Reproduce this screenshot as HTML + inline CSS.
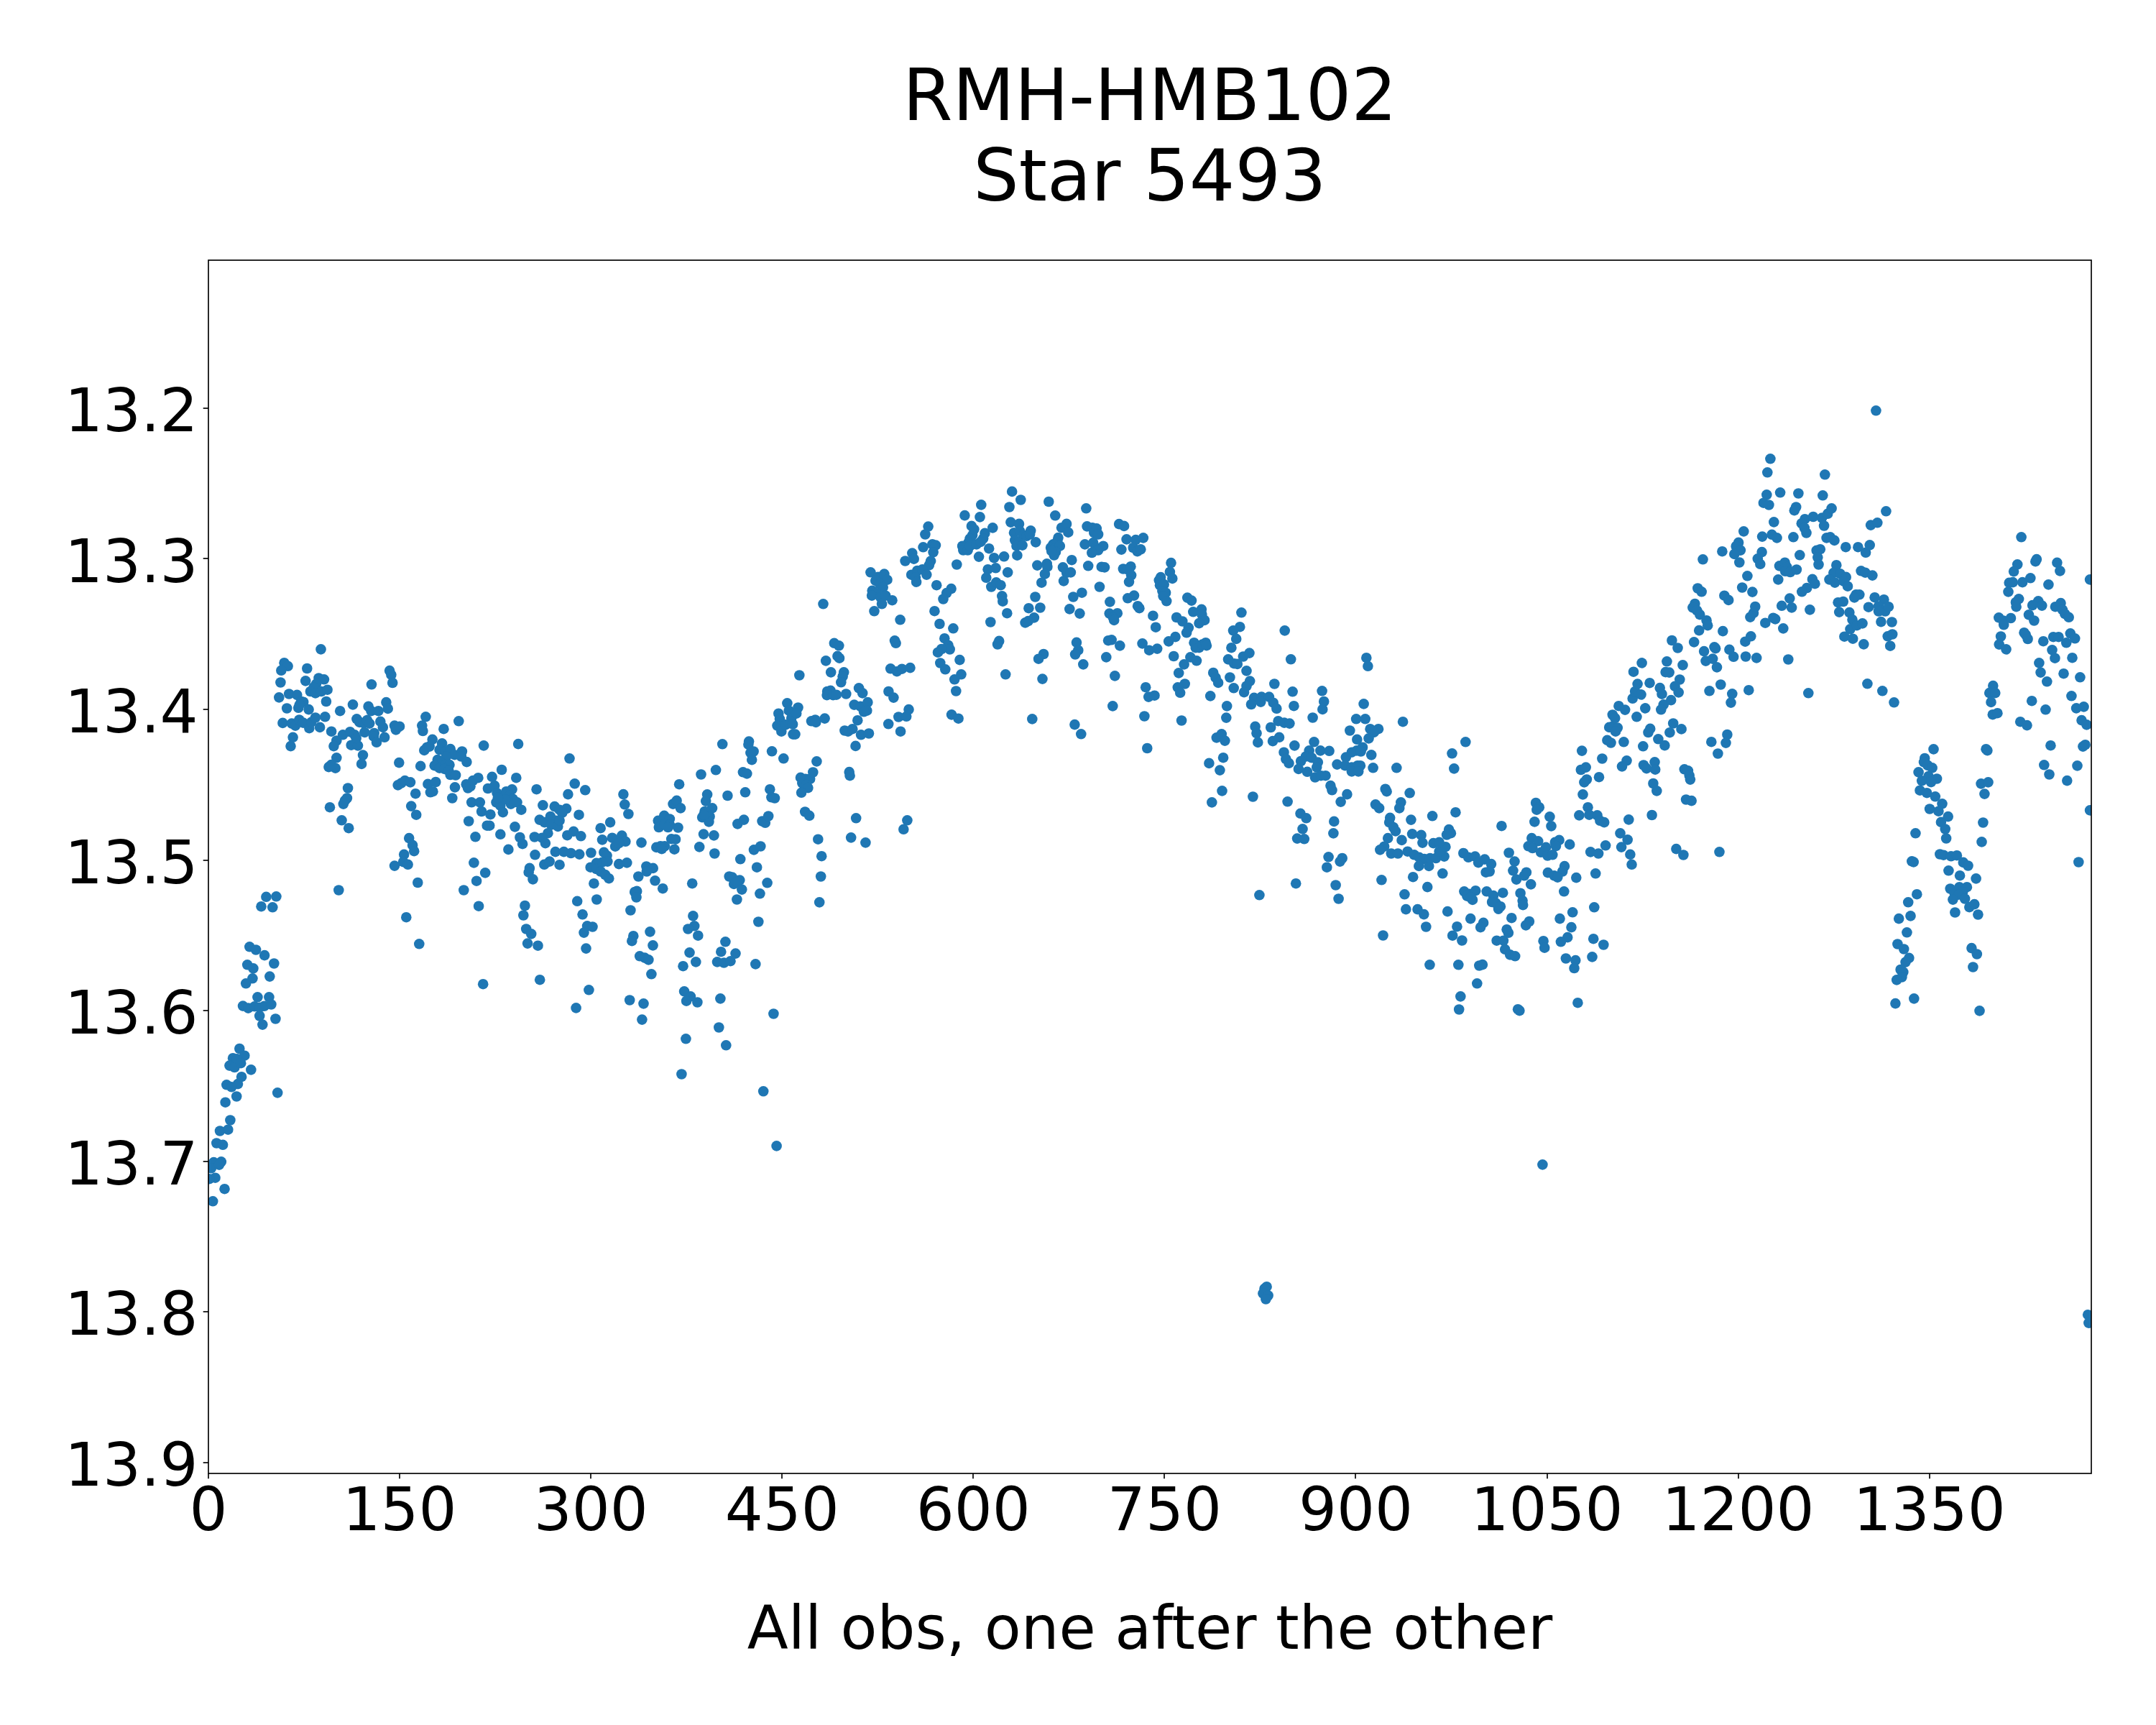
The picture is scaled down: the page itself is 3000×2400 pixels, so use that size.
<!DOCTYPE html><html><head><meta charset="utf-8"><title>RMH-HMB102 Star 5493</title>
<style>html,body{margin:0;padding:0;background:#fff}body{width:3000px;height:2400px;overflow:hidden}svg{display:block}text{font-family:"DejaVu Sans","Liberation Sans",sans-serif;fill:#000}</style></head><body>
<svg width="3000" height="2400" viewBox="0 0 3000 2400">
<rect width="3000" height="2400" fill="#fff"/>
<defs><clipPath id="ax"><rect x="290.0" y="362.0" width="2620.0" height="1688.0"/></clipPath></defs>
<g fill="#1f77b4" clip-path="url(#ax)">
<circle cx="395.5" cy="922.2" r="7.3"/>
<circle cx="400.6" cy="926.8" r="7.3"/>
<circle cx="391.3" cy="932.8" r="7.3"/>
<circle cx="390.4" cy="949.5" r="7.3"/>
<circle cx="388.3" cy="970.4" r="7.3"/>
<circle cx="402.2" cy="965.5" r="7.3"/>
<circle cx="399.2" cy="985.5" r="7.3"/>
<circle cx="393.4" cy="1005.9" r="7.3"/>
<circle cx="413.3" cy="966.9" r="7.3"/>
<circle cx="419.1" cy="976.0" r="7.3"/>
<circle cx="422.2" cy="976.7" r="7.3"/>
<circle cx="415.2" cy="984.8" r="7.3"/>
<circle cx="416.8" cy="980.6" r="7.3"/>
<circle cx="429.6" cy="987.1" r="7.3"/>
<circle cx="405.9" cy="1006.6" r="7.3"/>
<circle cx="411.0" cy="1009.6" r="7.3"/>
<circle cx="416.4" cy="1001.5" r="7.3"/>
<circle cx="421.9" cy="1005.6" r="7.3"/>
<circle cx="430.3" cy="1013.1" r="7.3"/>
<circle cx="433.1" cy="1004.9" r="7.3"/>
<circle cx="438.9" cy="998.5" r="7.3"/>
<circle cx="407.6" cy="1025.8" r="7.3"/>
<circle cx="404.5" cy="1038.1" r="7.3"/>
<circle cx="427.3" cy="930.0" r="7.3"/>
<circle cx="425.2" cy="947.4" r="7.3"/>
<circle cx="446.5" cy="903.4" r="7.3"/>
<circle cx="443.5" cy="943.5" r="7.3"/>
<circle cx="450.9" cy="945.3" r="7.3"/>
<circle cx="440.0" cy="951.6" r="7.3"/>
<circle cx="436.5" cy="956.2" r="7.3"/>
<circle cx="431.9" cy="962.0" r="7.3"/>
<circle cx="438.9" cy="964.4" r="7.3"/>
<circle cx="447.0" cy="962.0" r="7.3"/>
<circle cx="455.6" cy="959.7" r="7.3"/>
<circle cx="453.9" cy="976.0" r="7.3"/>
<circle cx="452.3" cy="997.3" r="7.3"/>
<circle cx="445.1" cy="1011.9" r="7.3"/>
<circle cx="461.1" cy="1017.7" r="7.3"/>
<circle cx="473.2" cy="989.2" r="7.3"/>
<circle cx="491.0" cy="980.4" r="7.3"/>
<circle cx="477.1" cy="1022.3" r="7.3"/>
<circle cx="487.1" cy="1018.2" r="7.3"/>
<circle cx="493.4" cy="1022.3" r="7.3"/>
<circle cx="468.3" cy="1030.5" r="7.3"/>
<circle cx="464.4" cy="1038.1" r="7.3"/>
<circle cx="488.7" cy="1036.7" r="7.3"/>
<circle cx="498.0" cy="1037.4" r="7.3"/>
<circle cx="495.7" cy="1027.0" r="7.3"/>
<circle cx="468.3" cy="1054.3" r="7.3"/>
<circle cx="457.4" cy="1067.1" r="7.3"/>
<circle cx="466.7" cy="1068.7" r="7.3"/>
<circle cx="460.9" cy="1064.1" r="7.3"/>
<circle cx="505.0" cy="1050.6" r="7.3"/>
<circle cx="503.1" cy="1062.9" r="7.3"/>
<circle cx="496.4" cy="1000.3" r="7.3"/>
<circle cx="500.3" cy="1004.9" r="7.3"/>
<circle cx="506.1" cy="1006.1" r="7.3"/>
<circle cx="510.8" cy="1001.9" r="7.3"/>
<circle cx="514.2" cy="1006.6" r="7.3"/>
<circle cx="507.3" cy="1018.9" r="7.3"/>
<circle cx="512.6" cy="982.9" r="7.3"/>
<circle cx="516.5" cy="989.2" r="7.3"/>
<circle cx="526.5" cy="989.2" r="7.3"/>
<circle cx="517.0" cy="952.3" r="7.3"/>
<circle cx="520.7" cy="1020.0" r="7.3"/>
<circle cx="520.0" cy="1024.7" r="7.3"/>
<circle cx="524.0" cy="1032.8" r="7.3"/>
<circle cx="535.1" cy="1025.8" r="7.3"/>
<circle cx="529.3" cy="1003.8" r="7.3"/>
<circle cx="532.8" cy="1011.9" r="7.3"/>
<circle cx="537.4" cy="977.1" r="7.3"/>
<circle cx="539.7" cy="985.9" r="7.3"/>
<circle cx="542.1" cy="933.1" r="7.3"/>
<circle cx="544.4" cy="938.8" r="7.3"/>
<circle cx="546.2" cy="950.0" r="7.3"/>
<circle cx="549.0" cy="1009.6" r="7.3"/>
<circle cx="550.9" cy="1015.4" r="7.3"/>
<circle cx="556.0" cy="1010.7" r="7.3"/>
<circle cx="484.1" cy="1096.5" r="7.3"/>
<circle cx="482.9" cy="1110.5" r="7.3"/>
<circle cx="479.9" cy="1113.9" r="7.3"/>
<circle cx="477.8" cy="1118.6" r="7.3"/>
<circle cx="459.0" cy="1123.2" r="7.3"/>
<circle cx="475.5" cy="1141.3" r="7.3"/>
<circle cx="485.2" cy="1152.2" r="7.3"/>
<circle cx="471.3" cy="1238.5" r="7.3"/>
<circle cx="555.3" cy="1061.1" r="7.3"/>
<circle cx="553.7" cy="1092.4" r="7.3"/>
<circle cx="558.3" cy="1089.6" r="7.3"/>
<circle cx="563.4" cy="1086.1" r="7.3"/>
<circle cx="571.0" cy="1088.4" r="7.3"/>
<circle cx="578.2" cy="1104.2" r="7.3"/>
<circle cx="572.2" cy="1121.6" r="7.3"/>
<circle cx="579.2" cy="1133.7" r="7.3"/>
<circle cx="569.2" cy="1166.1" r="7.3"/>
<circle cx="574.1" cy="1175.9" r="7.3"/>
<circle cx="576.2" cy="1184.2" r="7.3"/>
<circle cx="562.2" cy="1188.8" r="7.3"/>
<circle cx="561.1" cy="1199.1" r="7.3"/>
<circle cx="567.6" cy="1202.8" r="7.3"/>
<circle cx="549.0" cy="1204.6" r="7.3"/>
<circle cx="581.3" cy="1228.0" r="7.3"/>
<circle cx="585.2" cy="1065.9" r="7.3"/>
<circle cx="587.3" cy="1009.6" r="7.3"/>
<circle cx="588.4" cy="1017.0" r="7.3"/>
<circle cx="592.4" cy="997.3" r="7.3"/>
<circle cx="590.3" cy="1043.9" r="7.3"/>
<circle cx="594.2" cy="1039.7" r="7.3"/>
<circle cx="597.7" cy="1038.6" r="7.3"/>
<circle cx="601.7" cy="1028.8" r="7.3"/>
<circle cx="595.4" cy="1090.8" r="7.3"/>
<circle cx="598.9" cy="1102.3" r="7.3"/>
<circle cx="602.4" cy="1101.2" r="7.3"/>
<circle cx="606.3" cy="1088.0" r="7.3"/>
<circle cx="615.1" cy="1034.4" r="7.3"/>
<circle cx="617.4" cy="1014.2" r="7.3"/>
<circle cx="611.6" cy="1043.2" r="7.3"/>
<circle cx="619.7" cy="1045.5" r="7.3"/>
<circle cx="626.7" cy="1042.1" r="7.3"/>
<circle cx="632.5" cy="1050.2" r="7.3"/>
<circle cx="620.9" cy="1052.5" r="7.3"/>
<circle cx="608.8" cy="1057.1" r="7.3"/>
<circle cx="614.0" cy="1061.8" r="7.3"/>
<circle cx="604.7" cy="1065.2" r="7.3"/>
<circle cx="611.6" cy="1068.7" r="7.3"/>
<circle cx="619.7" cy="1064.1" r="7.3"/>
<circle cx="625.5" cy="1064.1" r="7.3"/>
<circle cx="618.6" cy="1069.9" r="7.3"/>
<circle cx="624.4" cy="1072.2" r="7.3"/>
<circle cx="626.7" cy="1078.0" r="7.3"/>
<circle cx="634.1" cy="1078.5" r="7.3"/>
<circle cx="638.3" cy="1003.3" r="7.3"/>
<circle cx="642.9" cy="1045.5" r="7.3"/>
<circle cx="641.8" cy="1052.5" r="7.3"/>
<circle cx="649.4" cy="1060.1" r="7.3"/>
<circle cx="633.0" cy="1095.4" r="7.3"/>
<circle cx="629.3" cy="1110.5" r="7.3"/>
<circle cx="673.1" cy="1037.4" r="7.3"/>
<circle cx="648.7" cy="1091.2" r="7.3"/>
<circle cx="651.1" cy="1096.5" r="7.3"/>
<circle cx="654.5" cy="1094.2" r="7.3"/>
<circle cx="658.0" cy="1086.1" r="7.3"/>
<circle cx="665.4" cy="1082.2" r="7.3"/>
<circle cx="656.2" cy="1116.3" r="7.3"/>
<circle cx="667.8" cy="1116.3" r="7.3"/>
<circle cx="670.1" cy="1129.0" r="7.3"/>
<circle cx="652.2" cy="1142.5" r="7.3"/>
<circle cx="661.5" cy="1164.3" r="7.3"/>
<circle cx="677.7" cy="1148.7" r="7.3"/>
<circle cx="681.2" cy="1148.7" r="7.3"/>
<circle cx="682.4" cy="1133.2" r="7.3"/>
<circle cx="659.4" cy="1200.4" r="7.3"/>
<circle cx="675.2" cy="1214.4" r="7.3"/>
<circle cx="663.1" cy="1225.7" r="7.3"/>
<circle cx="645.3" cy="1238.5" r="7.3"/>
<circle cx="370.4" cy="1247.8" r="7.3"/>
<circle cx="384.4" cy="1247.3" r="7.3"/>
<circle cx="684.7" cy="1080.8" r="7.3"/>
<circle cx="698.1" cy="1071.0" r="7.3"/>
<circle cx="678.9" cy="1097.0" r="7.3"/>
<circle cx="688.2" cy="1093.1" r="7.3"/>
<circle cx="691.6" cy="1103.5" r="7.3"/>
<circle cx="695.1" cy="1110.5" r="7.3"/>
<circle cx="690.5" cy="1116.3" r="7.3"/>
<circle cx="696.3" cy="1120.9" r="7.3"/>
<circle cx="699.8" cy="1130.2" r="7.3"/>
<circle cx="704.4" cy="1101.2" r="7.3"/>
<circle cx="712.5" cy="1098.4" r="7.3"/>
<circle cx="709.0" cy="1107.0" r="7.3"/>
<circle cx="713.7" cy="1111.6" r="7.3"/>
<circle cx="710.9" cy="1118.6" r="7.3"/>
<circle cx="719.5" cy="1116.3" r="7.3"/>
<circle cx="725.3" cy="1126.7" r="7.3"/>
<circle cx="718.3" cy="1082.2" r="7.3"/>
<circle cx="721.1" cy="1035.1" r="7.3"/>
<circle cx="696.3" cy="1160.8" r="7.3"/>
<circle cx="707.4" cy="1181.9" r="7.3"/>
<circle cx="716.5" cy="1150.4" r="7.3"/>
<circle cx="723.4" cy="1165.0" r="7.3"/>
<circle cx="727.1" cy="1174.2" r="7.3"/>
<circle cx="746.6" cy="1098.2" r="7.3"/>
<circle cx="755.4" cy="1120.4" r="7.3"/>
<circle cx="771.7" cy="1122.1" r="7.3"/>
<circle cx="778.6" cy="1126.7" r="7.3"/>
<circle cx="750.8" cy="1140.6" r="7.3"/>
<circle cx="757.7" cy="1144.1" r="7.3"/>
<circle cx="765.9" cy="1136.0" r="7.3"/>
<circle cx="774.0" cy="1141.8" r="7.3"/>
<circle cx="767.0" cy="1147.6" r="7.3"/>
<circle cx="776.3" cy="1149.9" r="7.3"/>
<circle cx="762.4" cy="1159.2" r="7.3"/>
<circle cx="743.8" cy="1164.5" r="7.3"/>
<circle cx="754.3" cy="1165.7" r="7.3"/>
<circle cx="758.9" cy="1173.1" r="7.3"/>
<circle cx="744.5" cy="1189.3" r="7.3"/>
<circle cx="772.8" cy="1185.1" r="7.3"/>
<circle cx="757.3" cy="1202.8" r="7.3"/>
<circle cx="764.7" cy="1198.6" r="7.3"/>
<circle cx="778.6" cy="1203.2" r="7.3"/>
<circle cx="736.9" cy="1207.9" r="7.3"/>
<circle cx="735.7" cy="1213.7" r="7.3"/>
<circle cx="741.5" cy="1223.4" r="7.3"/>
<circle cx="363.5" cy="1261.2" r="7.3"/>
<circle cx="379.3" cy="1262.3" r="7.3"/>
<circle cx="666.1" cy="1260.7" r="7.3"/>
<circle cx="730.4" cy="1260.0" r="7.3"/>
<circle cx="565.3" cy="1276.2" r="7.3"/>
<circle cx="583.3" cy="1313.3" r="7.3"/>
<circle cx="728.3" cy="1273.5" r="7.3"/>
<circle cx="732.2" cy="1292.5" r="7.3"/>
<circle cx="739.2" cy="1299.4" r="7.3"/>
<circle cx="734.1" cy="1312.6" r="7.3"/>
<circle cx="748.5" cy="1315.7" r="7.3"/>
<circle cx="751.2" cy="1363.2" r="7.3"/>
<circle cx="672.2" cy="1369.2" r="7.3"/>
<circle cx="347.3" cy="1317.3" r="7.3"/>
<circle cx="356.1" cy="1321.5" r="7.3"/>
<circle cx="368.1" cy="1329.1" r="7.3"/>
<circle cx="381.3" cy="1340.5" r="7.3"/>
<circle cx="344.2" cy="1342.3" r="7.3"/>
<circle cx="352.4" cy="1347.4" r="7.3"/>
<circle cx="375.3" cy="1358.6" r="7.3"/>
<circle cx="351.4" cy="1361.3" r="7.3"/>
<circle cx="342.2" cy="1368.3" r="7.3"/>
<circle cx="358.4" cy="1387.3" r="7.3"/>
<circle cx="374.4" cy="1387.3" r="7.3"/>
<circle cx="338.0" cy="1399.6" r="7.3"/>
<circle cx="345.4" cy="1402.6" r="7.3"/>
<circle cx="354.2" cy="1400.3" r="7.3"/>
<circle cx="361.2" cy="1401.9" r="7.3"/>
<circle cx="367.7" cy="1399.8" r="7.3"/>
<circle cx="377.4" cy="1397.5" r="7.3"/>
<circle cx="361.2" cy="1413.5" r="7.3"/>
<circle cx="383.4" cy="1417.5" r="7.3"/>
<circle cx="365.3" cy="1425.6" r="7.3"/>
<circle cx="333.3" cy="1459.0" r="7.3"/>
<circle cx="340.3" cy="1468.7" r="7.3"/>
<circle cx="324.1" cy="1472.2" r="7.3"/>
<circle cx="329.9" cy="1473.4" r="7.3"/>
<circle cx="319.4" cy="1482.6" r="7.3"/>
<circle cx="326.4" cy="1485.0" r="7.3"/>
<circle cx="335.2" cy="1479.2" r="7.3"/>
<circle cx="349.3" cy="1488.4" r="7.3"/>
<circle cx="336.1" cy="1498.2" r="7.3"/>
<circle cx="331.0" cy="1508.1" r="7.3"/>
<circle cx="315.3" cy="1509.3" r="7.3"/>
<circle cx="322.2" cy="1512.3" r="7.3"/>
<circle cx="329.2" cy="1525.5" r="7.3"/>
<circle cx="386.2" cy="1520.4" r="7.3"/>
<circle cx="313.6" cy="1533.7" r="7.3"/>
<circle cx="320.4" cy="1558.5" r="7.3"/>
<circle cx="306.0" cy="1573.5" r="7.3"/>
<circle cx="317.3" cy="1571.7" r="7.3"/>
<circle cx="301.3" cy="1590.5" r="7.3"/>
<circle cx="310.1" cy="1592.8" r="7.3"/>
<circle cx="297.4" cy="1617.1" r="7.3"/>
<circle cx="307.8" cy="1616.4" r="7.3"/>
<circle cx="293.9" cy="1625.3" r="7.3"/>
<circle cx="305.0" cy="1620.6" r="7.3"/>
<circle cx="299.5" cy="1638.7" r="7.3"/>
<circle cx="291.1" cy="1640.3" r="7.3"/>
<circle cx="312.5" cy="1654.2" r="7.3"/>
<circle cx="296.2" cy="1671.3" r="7.3"/>
<circle cx="792.5" cy="1055.3" r="7.3"/>
<circle cx="799.7" cy="1090.3" r="7.3"/>
<circle cx="790.4" cy="1105.1" r="7.3"/>
<circle cx="814.3" cy="1099.3" r="7.3"/>
<circle cx="788.1" cy="1125.1" r="7.3"/>
<circle cx="782.3" cy="1130.9" r="7.3"/>
<circle cx="805.5" cy="1133.7" r="7.3"/>
<circle cx="789.3" cy="1162.2" r="7.3"/>
<circle cx="798.1" cy="1156.8" r="7.3"/>
<circle cx="808.3" cy="1163.3" r="7.3"/>
<circle cx="784.6" cy="1185.1" r="7.3"/>
<circle cx="794.4" cy="1187.0" r="7.3"/>
<circle cx="806.2" cy="1188.6" r="7.3"/>
<circle cx="822.4" cy="1186.5" r="7.3"/>
<circle cx="803.2" cy="1253.8" r="7.3"/>
<circle cx="830.3" cy="1251.5" r="7.3"/>
<circle cx="826.4" cy="1229.2" r="7.3"/>
<circle cx="835.7" cy="1152.2" r="7.3"/>
<circle cx="849.1" cy="1144.1" r="7.3"/>
<circle cx="838.0" cy="1168.4" r="7.3"/>
<circle cx="867.4" cy="1105.1" r="7.3"/>
<circle cx="869.3" cy="1119.3" r="7.3"/>
<circle cx="874.4" cy="1132.5" r="7.3"/>
<circle cx="851.9" cy="1165.7" r="7.3"/>
<circle cx="858.8" cy="1169.6" r="7.3"/>
<circle cx="865.3" cy="1162.6" r="7.3"/>
<circle cx="870.4" cy="1170.8" r="7.3"/>
<circle cx="856.1" cy="1177.7" r="7.3"/>
<circle cx="861.2" cy="1173.1" r="7.3"/>
<circle cx="840.3" cy="1185.8" r="7.3"/>
<circle cx="844.5" cy="1190.5" r="7.3"/>
<circle cx="845.4" cy="1198.6" r="7.3"/>
<circle cx="838.0" cy="1199.7" r="7.3"/>
<circle cx="829.9" cy="1200.9" r="7.3"/>
<circle cx="821.7" cy="1206.7" r="7.3"/>
<circle cx="829.9" cy="1209.0" r="7.3"/>
<circle cx="835.7" cy="1212.5" r="7.3"/>
<circle cx="842.2" cy="1217.1" r="7.3"/>
<circle cx="847.3" cy="1222.2" r="7.3"/>
<circle cx="861.2" cy="1202.1" r="7.3"/>
<circle cx="872.3" cy="1200.4" r="7.3"/>
<circle cx="892.5" cy="1172.4" r="7.3"/>
<circle cx="888.3" cy="1219.5" r="7.3"/>
<circle cx="899.4" cy="1205.5" r="7.3"/>
<circle cx="908.7" cy="1207.9" r="7.3"/>
<circle cx="899.9" cy="1212.5" r="7.3"/>
<circle cx="911.5" cy="1225.3" r="7.3"/>
<circle cx="922.2" cy="1236.2" r="7.3"/>
<circle cx="883.2" cy="1241.0" r="7.3"/>
<circle cx="886.2" cy="1239.9" r="7.3"/>
<circle cx="885.5" cy="1248.5" r="7.3"/>
<circle cx="915.7" cy="1141.8" r="7.3"/>
<circle cx="924.2" cy="1134.8" r="7.3"/>
<circle cx="931.9" cy="1139.5" r="7.3"/>
<circle cx="916.8" cy="1151.0" r="7.3"/>
<circle cx="924.9" cy="1146.4" r="7.3"/>
<circle cx="931.9" cy="1147.6" r="7.3"/>
<circle cx="929.6" cy="1151.0" r="7.3"/>
<circle cx="943.5" cy="1151.5" r="7.3"/>
<circle cx="936.5" cy="1118.6" r="7.3"/>
<circle cx="941.6" cy="1113.9" r="7.3"/>
<circle cx="947.0" cy="1124.4" r="7.3"/>
<circle cx="945.1" cy="1091.2" r="7.3"/>
<circle cx="934.2" cy="1167.3" r="7.3"/>
<circle cx="940.0" cy="1167.7" r="7.3"/>
<circle cx="913.3" cy="1178.9" r="7.3"/>
<circle cx="919.1" cy="1177.3" r="7.3"/>
<circle cx="924.9" cy="1177.3" r="7.3"/>
<circle cx="920.8" cy="1181.2" r="7.3"/>
<circle cx="938.4" cy="1181.7" r="7.3"/>
<circle cx="963.2" cy="1229.2" r="7.3"/>
<circle cx="975.5" cy="1077.5" r="7.3"/>
<circle cx="996.1" cy="1071.3" r="7.3"/>
<circle cx="984.1" cy="1105.4" r="7.3"/>
<circle cx="982.2" cy="1114.6" r="7.3"/>
<circle cx="991.0" cy="1124.4" r="7.3"/>
<circle cx="980.6" cy="1129.0" r="7.3"/>
<circle cx="977.1" cy="1137.1" r="7.3"/>
<circle cx="984.1" cy="1132.5" r="7.3"/>
<circle cx="987.6" cy="1136.0" r="7.3"/>
<circle cx="986.4" cy="1143.4" r="7.3"/>
<circle cx="979.4" cy="1133.7" r="7.3"/>
<circle cx="979.0" cy="1160.6" r="7.3"/>
<circle cx="993.4" cy="1162.4" r="7.3"/>
<circle cx="973.2" cy="1178.4" r="7.3"/>
<circle cx="994.3" cy="1187.5" r="7.3"/>
<circle cx="1005.2" cy="1035.3" r="7.3"/>
<circle cx="1012.4" cy="1107.0" r="7.3"/>
<circle cx="1014.7" cy="1219.5" r="7.3"/>
<circle cx="1018.9" cy="1220.6" r="7.3"/>
<circle cx="1029.3" cy="1224.6" r="7.3"/>
<circle cx="1021.2" cy="1229.9" r="7.3"/>
<circle cx="1025.8" cy="1227.6" r="7.3"/>
<circle cx="1032.3" cy="1237.6" r="7.3"/>
<circle cx="1025.4" cy="1251.5" r="7.3"/>
<circle cx="1033.9" cy="1074.3" r="7.3"/>
<circle cx="1039.3" cy="1076.4" r="7.3"/>
<circle cx="1037.0" cy="1102.3" r="7.3"/>
<circle cx="1026.3" cy="1146.4" r="7.3"/>
<circle cx="1035.1" cy="1140.6" r="7.3"/>
<circle cx="1030.2" cy="1195.3" r="7.3"/>
<circle cx="1042.1" cy="1031.6" r="7.3"/>
<circle cx="1041.4" cy="1035.8" r="7.3"/>
<circle cx="1048.6" cy="1045.5" r="7.3"/>
<circle cx="1044.4" cy="1047.4" r="7.3"/>
<circle cx="1046.2" cy="1057.1" r="7.3"/>
<circle cx="1049.0" cy="1182.4" r="7.3"/>
<circle cx="1058.3" cy="1177.5" r="7.3"/>
<circle cx="1053.2" cy="1206.7" r="7.3"/>
<circle cx="1067.6" cy="1228.3" r="7.3"/>
<circle cx="1057.4" cy="1243.3" r="7.3"/>
<circle cx="1060.6" cy="1142.5" r="7.3"/>
<circle cx="1064.8" cy="1144.8" r="7.3"/>
<circle cx="1069.2" cy="1135.5" r="7.3"/>
<circle cx="1071.3" cy="1098.2" r="7.3"/>
<circle cx="1073.4" cy="1109.3" r="7.3"/>
<circle cx="1078.0" cy="1110.5" r="7.3"/>
<circle cx="1074.1" cy="1045.3" r="7.3"/>
<circle cx="1090.3" cy="1055.3" r="7.3"/>
<circle cx="1083.3" cy="992.7" r="7.3"/>
<circle cx="1085.0" cy="1000.3" r="7.3"/>
<circle cx="1081.5" cy="1009.6" r="7.3"/>
<circle cx="1087.3" cy="1010.7" r="7.3"/>
<circle cx="1087.3" cy="1017.7" r="7.3"/>
<circle cx="1093.1" cy="1008.4" r="7.3"/>
<circle cx="1095.4" cy="978.3" r="7.3"/>
<circle cx="1097.7" cy="988.7" r="7.3"/>
<circle cx="1101.2" cy="999.1" r="7.3"/>
<circle cx="1103.1" cy="1007.7" r="7.3"/>
<circle cx="1110.5" cy="984.5" r="7.3"/>
<circle cx="1108.2" cy="992.7" r="7.3"/>
<circle cx="1103.5" cy="1021.6" r="7.3"/>
<circle cx="1106.5" cy="1021.6" r="7.3"/>
<circle cx="1112.3" cy="939.5" r="7.3"/>
<circle cx="1114.0" cy="1081.9" r="7.3"/>
<circle cx="1120.9" cy="1083.8" r="7.3"/>
<circle cx="1127.2" cy="1083.8" r="7.3"/>
<circle cx="1116.3" cy="1089.6" r="7.3"/>
<circle cx="1122.1" cy="1091.9" r="7.3"/>
<circle cx="1124.4" cy="1096.1" r="7.3"/>
<circle cx="1115.1" cy="1102.8" r="7.3"/>
<circle cx="1131.3" cy="1074.5" r="7.3"/>
<circle cx="1136.4" cy="1059.4" r="7.3"/>
<circle cx="1120.2" cy="1129.5" r="7.3"/>
<circle cx="1126.2" cy="1134.8" r="7.3"/>
<circle cx="1129.0" cy="1003.3" r="7.3"/>
<circle cx="1134.4" cy="1001.5" r="7.3"/>
<circle cx="1135.3" cy="1004.9" r="7.3"/>
<circle cx="1147.6" cy="999.6" r="7.3"/>
<circle cx="1138.3" cy="1167.7" r="7.3"/>
<circle cx="1143.2" cy="1191.2" r="7.3"/>
<circle cx="1142.2" cy="1219.5" r="7.3"/>
<circle cx="1140.2" cy="1255.4" r="7.3"/>
<circle cx="1149.2" cy="919.4" r="7.3"/>
<circle cx="1160.8" cy="894.8" r="7.3"/>
<circle cx="1167.3" cy="898.3" r="7.3"/>
<circle cx="1165.4" cy="912.9" r="7.3"/>
<circle cx="1168.0" cy="915.7" r="7.3"/>
<circle cx="1156.2" cy="935.4" r="7.3"/>
<circle cx="1151.1" cy="962.0" r="7.3"/>
<circle cx="1155.7" cy="960.9" r="7.3"/>
<circle cx="1150.6" cy="967.1" r="7.3"/>
<circle cx="1159.2" cy="967.1" r="7.3"/>
<circle cx="1163.8" cy="966.7" r="7.3"/>
<circle cx="1174.2" cy="935.4" r="7.3"/>
<circle cx="1172.6" cy="941.2" r="7.3"/>
<circle cx="1170.3" cy="949.3" r="7.3"/>
<circle cx="1177.3" cy="965.5" r="7.3"/>
<circle cx="1175.4" cy="1016.5" r="7.3"/>
<circle cx="1180.0" cy="1017.7" r="7.3"/>
<circle cx="1186.3" cy="1014.2" r="7.3"/>
<circle cx="1193.3" cy="1002.2" r="7.3"/>
<circle cx="1198.1" cy="1022.3" r="7.3"/>
<circle cx="1209.0" cy="1020.5" r="7.3"/>
<circle cx="1190.5" cy="1037.9" r="7.3"/>
<circle cx="1181.7" cy="1074.1" r="7.3"/>
<circle cx="1182.6" cy="1079.2" r="7.3"/>
<circle cx="1188.6" cy="980.6" r="7.3"/>
<circle cx="1197.4" cy="982.9" r="7.3"/>
<circle cx="1207.4" cy="977.1" r="7.3"/>
<circle cx="1206.3" cy="988.7" r="7.3"/>
<circle cx="1202.1" cy="990.3" r="7.3"/>
<circle cx="1195.1" cy="957.4" r="7.3"/>
<circle cx="1200.2" cy="964.4" r="7.3"/>
<circle cx="1191.2" cy="1138.3" r="7.3"/>
<circle cx="1184.2" cy="1165.4" r="7.3"/>
<circle cx="1204.4" cy="1172.4" r="7.3"/>
<circle cx="1236.4" cy="962.0" r="7.3"/>
<circle cx="1243.4" cy="970.6" r="7.3"/>
<circle cx="1239.2" cy="930.3" r="7.3"/>
<circle cx="1248.0" cy="934.2" r="7.3"/>
<circle cx="1255.0" cy="930.7" r="7.3"/>
<circle cx="1266.5" cy="929.1" r="7.3"/>
<circle cx="1245.0" cy="891.3" r="7.3"/>
<circle cx="1246.6" cy="894.8" r="7.3"/>
<circle cx="1252.6" cy="862.3" r="7.3"/>
<circle cx="1236.2" cy="1007.3" r="7.3"/>
<circle cx="1250.3" cy="997.5" r="7.3"/>
<circle cx="1261.2" cy="996.8" r="7.3"/>
<circle cx="1264.5" cy="987.1" r="7.3"/>
<circle cx="1253.1" cy="1017.7" r="7.3"/>
<circle cx="1262.4" cy="1141.3" r="7.3"/>
<circle cx="1257.3" cy="1153.8" r="7.3"/>
<circle cx="810.6" cy="1272.3" r="7.3"/>
<circle cx="817.1" cy="1288.3" r="7.3"/>
<circle cx="824.5" cy="1289.5" r="7.3"/>
<circle cx="812.5" cy="1297.6" r="7.3"/>
<circle cx="815.5" cy="1319.6" r="7.3"/>
<circle cx="819.4" cy="1377.3" r="7.3"/>
<circle cx="801.6" cy="1402.4" r="7.3"/>
<circle cx="877.4" cy="1266.5" r="7.3"/>
<circle cx="881.3" cy="1302.2" r="7.3"/>
<circle cx="879.3" cy="1309.2" r="7.3"/>
<circle cx="904.5" cy="1296.4" r="7.3"/>
<circle cx="908.5" cy="1315.4" r="7.3"/>
<circle cx="890.2" cy="1330.3" r="7.3"/>
<circle cx="897.1" cy="1332.6" r="7.3"/>
<circle cx="902.4" cy="1335.4" r="7.3"/>
<circle cx="906.4" cy="1355.3" r="7.3"/>
<circle cx="876.2" cy="1391.5" r="7.3"/>
<circle cx="895.5" cy="1396.4" r="7.3"/>
<circle cx="893.4" cy="1418.6" r="7.3"/>
<circle cx="964.4" cy="1274.4" r="7.3"/>
<circle cx="966.2" cy="1288.3" r="7.3"/>
<circle cx="957.4" cy="1292.5" r="7.3"/>
<circle cx="971.3" cy="1301.7" r="7.3"/>
<circle cx="959.5" cy="1325.4" r="7.3"/>
<circle cx="968.3" cy="1338.4" r="7.3"/>
<circle cx="950.5" cy="1344.2" r="7.3"/>
<circle cx="952.1" cy="1379.4" r="7.3"/>
<circle cx="960.9" cy="1386.4" r="7.3"/>
<circle cx="955.1" cy="1392.7" r="7.3"/>
<circle cx="970.4" cy="1394.5" r="7.3"/>
<circle cx="954.4" cy="1445.3" r="7.3"/>
<circle cx="948.4" cy="1494.5" r="7.3"/>
<circle cx="1009.4" cy="1310.3" r="7.3"/>
<circle cx="1003.3" cy="1324.2" r="7.3"/>
<circle cx="1023.5" cy="1326.6" r="7.3"/>
<circle cx="998.0" cy="1338.4" r="7.3"/>
<circle cx="1007.3" cy="1339.5" r="7.3"/>
<circle cx="1016.5" cy="1337.2" r="7.3"/>
<circle cx="1002.4" cy="1389.4" r="7.3"/>
<circle cx="1000.3" cy="1429.5" r="7.3"/>
<circle cx="1010.3" cy="1454.3" r="7.3"/>
<circle cx="1055.3" cy="1282.5" r="7.3"/>
<circle cx="1051.3" cy="1341.4" r="7.3"/>
<circle cx="1076.4" cy="1410.5" r="7.3"/>
<circle cx="1062.2" cy="1518.3" r="7.3"/>
<circle cx="1080.6" cy="1594.4" r="7.3"/>
<circle cx="1145.5" cy="840.3" r="7.3"/>
<circle cx="1211.4" cy="796.3" r="7.3"/>
<circle cx="1221.8" cy="802.8" r="7.3"/>
<circle cx="1230.4" cy="798.6" r="7.3"/>
<circle cx="1234.5" cy="806.7" r="7.3"/>
<circle cx="1218.3" cy="807.9" r="7.3"/>
<circle cx="1224.1" cy="812.5" r="7.3"/>
<circle cx="1228.7" cy="817.1" r="7.3"/>
<circle cx="1213.7" cy="821.8" r="7.3"/>
<circle cx="1219.5" cy="825.3" r="7.3"/>
<circle cx="1213.2" cy="828.7" r="7.3"/>
<circle cx="1225.3" cy="831.1" r="7.3"/>
<circle cx="1232.2" cy="828.7" r="7.3"/>
<circle cx="1241.5" cy="835.2" r="7.3"/>
<circle cx="1227.1" cy="840.3" r="7.3"/>
<circle cx="1216.5" cy="850.3" r="7.3"/>
<circle cx="1269.3" cy="769.6" r="7.3"/>
<circle cx="1271.7" cy="777.7" r="7.3"/>
<circle cx="1259.6" cy="780.5" r="7.3"/>
<circle cx="1268.2" cy="799.7" r="7.3"/>
<circle cx="1276.3" cy="794.0" r="7.3"/>
<circle cx="1274.0" cy="803.2" r="7.3"/>
<circle cx="1275.1" cy="809.7" r="7.3"/>
<circle cx="1291.6" cy="732.6" r="7.3"/>
<circle cx="1287.4" cy="743.5" r="7.3"/>
<circle cx="1284.6" cy="761.3" r="7.3"/>
<circle cx="1297.4" cy="757.4" r="7.3"/>
<circle cx="1302.0" cy="758.6" r="7.3"/>
<circle cx="1298.6" cy="768.3" r="7.3"/>
<circle cx="1295.1" cy="780.6" r="7.3"/>
<circle cx="1292.8" cy="786.4" r="7.3"/>
<circle cx="1283.5" cy="792.2" r="7.3"/>
<circle cx="1289.3" cy="799.6" r="7.3"/>
<circle cx="1303.2" cy="814.2" r="7.3"/>
<circle cx="1323.6" cy="819.1" r="7.3"/>
<circle cx="1317.1" cy="825.1" r="7.3"/>
<circle cx="1312.5" cy="833.5" r="7.3"/>
<circle cx="1300.4" cy="850.2" r="7.3"/>
<circle cx="1307.4" cy="868.0" r="7.3"/>
<circle cx="1326.4" cy="874.3" r="7.3"/>
<circle cx="1314.3" cy="888.2" r="7.3"/>
<circle cx="1319.4" cy="897.7" r="7.3"/>
<circle cx="1321.7" cy="903.5" r="7.3"/>
<circle cx="1310.1" cy="903.0" r="7.3"/>
<circle cx="1305.0" cy="907.7" r="7.3"/>
<circle cx="1308.3" cy="922.5" r="7.3"/>
<circle cx="1315.3" cy="931.3" r="7.3"/>
<circle cx="1335.4" cy="918.1" r="7.3"/>
<circle cx="1337.5" cy="938.3" r="7.3"/>
<circle cx="1328.2" cy="945.3" r="7.3"/>
<circle cx="1330.3" cy="961.5" r="7.3"/>
<circle cx="1324.1" cy="994.4" r="7.3"/>
<circle cx="1333.6" cy="999.7" r="7.3"/>
<circle cx="1331.3" cy="785.5" r="7.3"/>
<circle cx="1342.4" cy="717.1" r="7.3"/>
<circle cx="1351.9" cy="731.9" r="7.3"/>
<circle cx="1355.4" cy="736.5" r="7.3"/>
<circle cx="1353.1" cy="744.6" r="7.3"/>
<circle cx="1349.6" cy="749.3" r="7.3"/>
<circle cx="1347.3" cy="755.1" r="7.3"/>
<circle cx="1339.1" cy="759.7" r="7.3"/>
<circle cx="1340.3" cy="765.5" r="7.3"/>
<circle cx="1346.6" cy="765.5" r="7.3"/>
<circle cx="1349.6" cy="759.7" r="7.3"/>
<circle cx="1358.8" cy="757.4" r="7.3"/>
<circle cx="1365.3" cy="702.4" r="7.3"/>
<circle cx="1363.5" cy="719.4" r="7.3"/>
<circle cx="1370.4" cy="741.9" r="7.3"/>
<circle cx="1368.1" cy="749.3" r="7.3"/>
<circle cx="1364.6" cy="753.9" r="7.3"/>
<circle cx="1381.3" cy="734.4" r="7.3"/>
<circle cx="1376.2" cy="763.2" r="7.3"/>
<circle cx="1362.1" cy="774.6" r="7.3"/>
<circle cx="1383.2" cy="776.2" r="7.3"/>
<circle cx="1397.1" cy="774.3" r="7.3"/>
<circle cx="1374.6" cy="792.2" r="7.3"/>
<circle cx="1385.5" cy="790.3" r="7.3"/>
<circle cx="1402.2" cy="796.4" r="7.3"/>
<circle cx="1372.3" cy="803.8" r="7.3"/>
<circle cx="1379.3" cy="816.5" r="7.3"/>
<circle cx="1386.2" cy="810.3" r="7.3"/>
<circle cx="1392.5" cy="814.2" r="7.3"/>
<circle cx="1394.3" cy="829.3" r="7.3"/>
<circle cx="1395.3" cy="836.7" r="7.3"/>
<circle cx="1401.3" cy="853.2" r="7.3"/>
<circle cx="1378.3" cy="865.5" r="7.3"/>
<circle cx="1390.2" cy="891.9" r="7.3"/>
<circle cx="1388.1" cy="896.5" r="7.3"/>
<circle cx="1399.2" cy="938.3" r="7.3"/>
<circle cx="1408.2" cy="683.9" r="7.3"/>
<circle cx="1420.3" cy="695.5" r="7.3"/>
<circle cx="1404.5" cy="705.5" r="7.3"/>
<circle cx="1406.4" cy="726.6" r="7.3"/>
<circle cx="1418.0" cy="728.9" r="7.3"/>
<circle cx="1411.0" cy="741.2" r="7.3"/>
<circle cx="1419.1" cy="738.8" r="7.3"/>
<circle cx="1423.8" cy="744.6" r="7.3"/>
<circle cx="1412.2" cy="751.6" r="7.3"/>
<circle cx="1416.8" cy="755.1" r="7.3"/>
<circle cx="1414.5" cy="759.7" r="7.3"/>
<circle cx="1422.6" cy="758.6" r="7.3"/>
<circle cx="1428.4" cy="745.8" r="7.3"/>
<circle cx="1434.2" cy="738.4" r="7.3"/>
<circle cx="1433.1" cy="743.5" r="7.3"/>
<circle cx="1441.2" cy="754.4" r="7.3"/>
<circle cx="1415.4" cy="772.7" r="7.3"/>
<circle cx="1440.5" cy="830.5" r="7.3"/>
<circle cx="1431.4" cy="846.2" r="7.3"/>
<circle cx="1447.4" cy="845.5" r="7.3"/>
<circle cx="1438.9" cy="859.4" r="7.3"/>
<circle cx="1430.7" cy="864.1" r="7.3"/>
<circle cx="1426.6" cy="866.4" r="7.3"/>
<circle cx="1436.3" cy="1000.4" r="7.3"/>
<circle cx="1443.3" cy="786.6" r="7.3"/>
<circle cx="1456.7" cy="784.3" r="7.3"/>
<circle cx="1457.4" cy="788.7" r="7.3"/>
<circle cx="1453.9" cy="798.7" r="7.3"/>
<circle cx="1449.3" cy="810.7" r="7.3"/>
<circle cx="1452.1" cy="910.0" r="7.3"/>
<circle cx="1445.1" cy="916.7" r="7.3"/>
<circle cx="1450.5" cy="944.6" r="7.3"/>
<circle cx="1459.3" cy="698.0" r="7.3"/>
<circle cx="1468.3" cy="717.3" r="7.3"/>
<circle cx="1477.1" cy="734.2" r="7.3"/>
<circle cx="1484.1" cy="728.9" r="7.3"/>
<circle cx="1486.4" cy="740.7" r="7.3"/>
<circle cx="1472.5" cy="748.1" r="7.3"/>
<circle cx="1471.3" cy="752.8" r="7.3"/>
<circle cx="1465.5" cy="757.4" r="7.3"/>
<circle cx="1462.1" cy="762.0" r="7.3"/>
<circle cx="1467.8" cy="763.2" r="7.3"/>
<circle cx="1474.8" cy="759.7" r="7.3"/>
<circle cx="1469.0" cy="767.8" r="7.3"/>
<circle cx="1466.7" cy="772.5" r="7.3"/>
<circle cx="1463.2" cy="766.7" r="7.3"/>
<circle cx="1479.0" cy="789.4" r="7.3"/>
<circle cx="1484.1" cy="796.8" r="7.3"/>
<circle cx="1489.9" cy="796.4" r="7.3"/>
<circle cx="1480.1" cy="808.4" r="7.3"/>
<circle cx="1491.3" cy="779.2" r="7.3"/>
<circle cx="1493.4" cy="830.5" r="7.3"/>
<circle cx="1505.4" cy="824.7" r="7.3"/>
<circle cx="1488.3" cy="847.4" r="7.3"/>
<circle cx="1502.4" cy="853.6" r="7.3"/>
<circle cx="1498.0" cy="893.8" r="7.3"/>
<circle cx="1500.3" cy="904.7" r="7.3"/>
<circle cx="1496.1" cy="910.5" r="7.3"/>
<circle cx="1507.3" cy="924.4" r="7.3"/>
<circle cx="1495.4" cy="1008.1" r="7.3"/>
<circle cx="1504.3" cy="1021.3" r="7.3"/>
<circle cx="1511.4" cy="707.3" r="7.3"/>
<circle cx="1512.6" cy="732.4" r="7.3"/>
<circle cx="1520.0" cy="734.2" r="7.3"/>
<circle cx="1525.8" cy="735.4" r="7.3"/>
<circle cx="1522.3" cy="741.2" r="7.3"/>
<circle cx="1528.1" cy="743.5" r="7.3"/>
<circle cx="1509.6" cy="757.4" r="7.3"/>
<circle cx="1521.2" cy="755.1" r="7.3"/>
<circle cx="1524.7" cy="762.0" r="7.3"/>
<circle cx="1535.1" cy="759.7" r="7.3"/>
<circle cx="1528.1" cy="765.5" r="7.3"/>
<circle cx="1519.3" cy="769.0" r="7.3"/>
<circle cx="1514.2" cy="787.3" r="7.3"/>
<circle cx="1532.8" cy="788.7" r="7.3"/>
<circle cx="1537.0" cy="789.4" r="7.3"/>
<circle cx="1530.0" cy="816.5" r="7.3"/>
<circle cx="1544.4" cy="837.4" r="7.3"/>
<circle cx="1543.7" cy="853.6" r="7.3"/>
<circle cx="1554.8" cy="853.2" r="7.3"/>
<circle cx="1549.0" cy="859.4" r="7.3"/>
<circle cx="1550.2" cy="862.9" r="7.3"/>
<circle cx="1542.1" cy="891.2" r="7.3"/>
<circle cx="1546.7" cy="890.3" r="7.3"/>
<circle cx="1558.3" cy="898.4" r="7.3"/>
<circle cx="1539.3" cy="914.4" r="7.3"/>
<circle cx="1551.3" cy="940.4" r="7.3"/>
<circle cx="1548.3" cy="982.4" r="7.3"/>
<circle cx="1557.1" cy="729.1" r="7.3"/>
<circle cx="1564.1" cy="731.9" r="7.3"/>
<circle cx="1567.6" cy="750.4" r="7.3"/>
<circle cx="1560.4" cy="764.6" r="7.3"/>
<circle cx="1580.3" cy="751.1" r="7.3"/>
<circle cx="1590.8" cy="748.4" r="7.3"/>
<circle cx="1576.8" cy="762.0" r="7.3"/>
<circle cx="1582.6" cy="767.1" r="7.3"/>
<circle cx="1587.3" cy="764.4" r="7.3"/>
<circle cx="1562.9" cy="791.5" r="7.3"/>
<circle cx="1568.7" cy="792.2" r="7.3"/>
<circle cx="1573.4" cy="788.2" r="7.3"/>
<circle cx="1574.1" cy="800.3" r="7.3"/>
<circle cx="1571.0" cy="809.6" r="7.3"/>
<circle cx="1569.2" cy="832.3" r="7.3"/>
<circle cx="1578.0" cy="828.6" r="7.3"/>
<circle cx="1583.1" cy="843.2" r="7.3"/>
<circle cx="1585.4" cy="846.2" r="7.3"/>
<circle cx="1589.6" cy="895.4" r="7.3"/>
<circle cx="1599.1" cy="904.7" r="7.3"/>
<circle cx="1610.2" cy="902.6" r="7.3"/>
<circle cx="1594.2" cy="956.2" r="7.3"/>
<circle cx="1598.2" cy="969.6" r="7.3"/>
<circle cx="1606.5" cy="967.7" r="7.3"/>
<circle cx="1592.4" cy="996.5" r="7.3"/>
<circle cx="1596.3" cy="1041.0" r="7.3"/>
<circle cx="1604.4" cy="856.7" r="7.3"/>
<circle cx="1608.2" cy="872.7" r="7.3"/>
<circle cx="1629.5" cy="783.1" r="7.3"/>
<circle cx="1627.9" cy="795.7" r="7.3"/>
<circle cx="1631.3" cy="804.9" r="7.3"/>
<circle cx="1615.1" cy="803.1" r="7.3"/>
<circle cx="1612.8" cy="807.3" r="7.3"/>
<circle cx="1614.0" cy="814.2" r="7.3"/>
<circle cx="1619.7" cy="813.1" r="7.3"/>
<circle cx="1617.4" cy="822.3" r="7.3"/>
<circle cx="1622.1" cy="824.7" r="7.3"/>
<circle cx="1618.6" cy="829.3" r="7.3"/>
<circle cx="1623.2" cy="836.3" r="7.3"/>
<circle cx="1637.1" cy="859.0" r="7.3"/>
<circle cx="1645.3" cy="864.5" r="7.3"/>
<circle cx="1653.8" cy="873.4" r="7.3"/>
<circle cx="1651.1" cy="880.3" r="7.3"/>
<circle cx="1635.5" cy="886.1" r="7.3"/>
<circle cx="1626.2" cy="892.4" r="7.3"/>
<circle cx="1633.2" cy="913.0" r="7.3"/>
<circle cx="1652.2" cy="831.6" r="7.3"/>
<circle cx="1658.0" cy="835.6" r="7.3"/>
<circle cx="1660.3" cy="851.3" r="7.3"/>
<circle cx="1671.9" cy="847.8" r="7.3"/>
<circle cx="1672.4" cy="854.8" r="7.3"/>
<circle cx="1676.1" cy="862.9" r="7.3"/>
<circle cx="1668.5" cy="867.1" r="7.3"/>
<circle cx="1661.5" cy="894.2" r="7.3"/>
<circle cx="1663.8" cy="901.2" r="7.3"/>
<circle cx="1668.5" cy="901.2" r="7.3"/>
<circle cx="1673.1" cy="896.5" r="7.3"/>
<circle cx="1677.7" cy="894.2" r="7.3"/>
<circle cx="1678.9" cy="898.2" r="7.3"/>
<circle cx="1656.4" cy="914.4" r="7.3"/>
<circle cx="1665.0" cy="919.3" r="7.3"/>
<circle cx="1647.6" cy="924.4" r="7.3"/>
<circle cx="1640.2" cy="936.4" r="7.3"/>
<circle cx="1648.7" cy="951.5" r="7.3"/>
<circle cx="1638.8" cy="956.4" r="7.3"/>
<circle cx="1642.2" cy="963.8" r="7.3"/>
<circle cx="1644.1" cy="1002.5" r="7.3"/>
<circle cx="1688.2" cy="936.0" r="7.3"/>
<circle cx="1691.6" cy="942.9" r="7.3"/>
<circle cx="1695.1" cy="949.9" r="7.3"/>
<circle cx="1684.2" cy="968.4" r="7.3"/>
<circle cx="1692.8" cy="1026.4" r="7.3"/>
<circle cx="1699.8" cy="1021.3" r="7.3"/>
<circle cx="1704.4" cy="1030.6" r="7.3"/>
<circle cx="1702.1" cy="1054.2" r="7.3"/>
<circle cx="1727.4" cy="852.3" r="7.3"/>
<circle cx="1725.3" cy="872.2" r="7.3"/>
<circle cx="1716.0" cy="877.3" r="7.3"/>
<circle cx="1720.2" cy="888.9" r="7.3"/>
<circle cx="1713.4" cy="901.2" r="7.3"/>
<circle cx="1709.0" cy="917.4" r="7.3"/>
<circle cx="1717.2" cy="923.2" r="7.3"/>
<circle cx="1721.8" cy="923.9" r="7.3"/>
<circle cx="1729.9" cy="913.5" r="7.3"/>
<circle cx="1738.5" cy="908.6" r="7.3"/>
<circle cx="1734.5" cy="933.4" r="7.3"/>
<circle cx="1711.4" cy="942.5" r="7.3"/>
<circle cx="1716.7" cy="957.3" r="7.3"/>
<circle cx="1739.2" cy="947.6" r="7.3"/>
<circle cx="1734.5" cy="954.5" r="7.3"/>
<circle cx="1731.1" cy="963.1" r="7.3"/>
<circle cx="1707.2" cy="982.4" r="7.3"/>
<circle cx="1706.3" cy="998.6" r="7.3"/>
<circle cx="1745.0" cy="970.8" r="7.3"/>
<circle cx="1755.4" cy="969.6" r="7.3"/>
<circle cx="1765.9" cy="969.6" r="7.3"/>
<circle cx="1741.0" cy="980.0" r="7.3"/>
<circle cx="1754.3" cy="976.6" r="7.3"/>
<circle cx="1771.7" cy="977.7" r="7.3"/>
<circle cx="1776.3" cy="985.8" r="7.3"/>
<circle cx="1773.3" cy="951.5" r="7.3"/>
<circle cx="1746.6" cy="1010.9" r="7.3"/>
<circle cx="1748.5" cy="1020.2" r="7.3"/>
<circle cx="1750.3" cy="1032.9" r="7.3"/>
<circle cx="1768.2" cy="1012.0" r="7.3"/>
<circle cx="1778.6" cy="1003.2" r="7.3"/>
<circle cx="1771.0" cy="1031.1" r="7.3"/>
<circle cx="1682.4" cy="1061.9" r="7.3"/>
<circle cx="1697.4" cy="1071.6" r="7.3"/>
<circle cx="1700.5" cy="1100.4" r="7.3"/>
<circle cx="1686.3" cy="1116.4" r="7.3"/>
<circle cx="1743.4" cy="1108.5" r="7.3"/>
<circle cx="1752.4" cy="1245.3" r="7.3"/>
<circle cx="1787.7" cy="877.4" r="7.3"/>
<circle cx="1796.2" cy="917.3" r="7.3"/>
<circle cx="1798.6" cy="962.3" r="7.3"/>
<circle cx="1800.4" cy="982.2" r="7.3"/>
<circle cx="1780.0" cy="1025.8" r="7.3"/>
<circle cx="1787.0" cy="1005.6" r="7.3"/>
<circle cx="1794.4" cy="1006.6" r="7.3"/>
<circle cx="1801.3" cy="1037.4" r="7.3"/>
<circle cx="1786.5" cy="1046.7" r="7.3"/>
<circle cx="1789.3" cy="1056.0" r="7.3"/>
<circle cx="1793.5" cy="1061.8" r="7.3"/>
<circle cx="1826.6" cy="998.5" r="7.3"/>
<circle cx="1839.6" cy="961.3" r="7.3"/>
<circle cx="1842.2" cy="976.0" r="7.3"/>
<circle cx="1840.3" cy="986.9" r="7.3"/>
<circle cx="1828.5" cy="1032.3" r="7.3"/>
<circle cx="1821.7" cy="1044.4" r="7.3"/>
<circle cx="1837.3" cy="1044.4" r="7.3"/>
<circle cx="1849.6" cy="1044.8" r="7.3"/>
<circle cx="1817.1" cy="1052.5" r="7.3"/>
<circle cx="1825.2" cy="1054.3" r="7.3"/>
<circle cx="1810.1" cy="1059.0" r="7.3"/>
<circle cx="1833.8" cy="1060.6" r="7.3"/>
<circle cx="1832.2" cy="1067.6" r="7.3"/>
<circle cx="1806.9" cy="1069.9" r="7.3"/>
<circle cx="1819.0" cy="1073.8" r="7.3"/>
<circle cx="1829.9" cy="1081.5" r="7.3"/>
<circle cx="1838.0" cy="1079.2" r="7.3"/>
<circle cx="1844.5" cy="1079.2" r="7.3"/>
<circle cx="1851.4" cy="1093.1" r="7.3"/>
<circle cx="1853.5" cy="1099.3" r="7.3"/>
<circle cx="1791.6" cy="1115.3" r="7.3"/>
<circle cx="1809.5" cy="1131.8" r="7.3"/>
<circle cx="1817.6" cy="1138.3" r="7.3"/>
<circle cx="1812.5" cy="1153.4" r="7.3"/>
<circle cx="1805.0" cy="1166.6" r="7.3"/>
<circle cx="1814.8" cy="1167.3" r="7.3"/>
<circle cx="1803.2" cy="1229.2" r="7.3"/>
<circle cx="1856.3" cy="1142.9" r="7.3"/>
<circle cx="1855.4" cy="1159.4" r="7.3"/>
<circle cx="1848.6" cy="1192.3" r="7.3"/>
<circle cx="1846.3" cy="1206.7" r="7.3"/>
<circle cx="1867.7" cy="1194.0" r="7.3"/>
<circle cx="1864.6" cy="1198.6" r="7.3"/>
<circle cx="1858.6" cy="1231.5" r="7.3"/>
<circle cx="1862.6" cy="1250.5" r="7.3"/>
<circle cx="1874.4" cy="1105.1" r="7.3"/>
<circle cx="1865.6" cy="1115.6" r="7.3"/>
<circle cx="1901.3" cy="915.2" r="7.3"/>
<circle cx="1903.4" cy="926.8" r="7.3"/>
<circle cx="1897.6" cy="979.4" r="7.3"/>
<circle cx="1887.1" cy="1000.3" r="7.3"/>
<circle cx="1899.7" cy="1000.3" r="7.3"/>
<circle cx="1878.3" cy="1016.5" r="7.3"/>
<circle cx="1888.3" cy="1028.8" r="7.3"/>
<circle cx="1906.6" cy="1014.2" r="7.3"/>
<circle cx="1918.0" cy="1014.2" r="7.3"/>
<circle cx="1911.7" cy="1018.9" r="7.3"/>
<circle cx="1904.5" cy="1027.4" r="7.3"/>
<circle cx="1896.0" cy="1039.7" r="7.3"/>
<circle cx="1887.8" cy="1044.4" r="7.3"/>
<circle cx="1880.9" cy="1046.7" r="7.3"/>
<circle cx="1893.6" cy="1045.5" r="7.3"/>
<circle cx="1872.8" cy="1053.6" r="7.3"/>
<circle cx="1860.5" cy="1063.6" r="7.3"/>
<circle cx="1871.6" cy="1065.2" r="7.3"/>
<circle cx="1880.9" cy="1067.6" r="7.3"/>
<circle cx="1889.0" cy="1065.2" r="7.3"/>
<circle cx="1892.9" cy="1065.2" r="7.3"/>
<circle cx="1880.9" cy="1073.4" r="7.3"/>
<circle cx="1890.2" cy="1073.4" r="7.3"/>
<circle cx="1908.2" cy="1050.4" r="7.3"/>
<circle cx="1910.6" cy="1068.3" r="7.3"/>
<circle cx="1943.3" cy="1068.3" r="7.3"/>
<circle cx="1952.1" cy="1004.2" r="7.3"/>
<circle cx="1927.7" cy="1097.7" r="7.3"/>
<circle cx="1929.6" cy="1101.2" r="7.3"/>
<circle cx="1961.6" cy="1103.3" r="7.3"/>
<circle cx="1949.3" cy="1116.3" r="7.3"/>
<circle cx="1947.2" cy="1124.4" r="7.3"/>
<circle cx="1914.0" cy="1119.3" r="7.3"/>
<circle cx="1919.1" cy="1124.4" r="7.3"/>
<circle cx="1934.2" cy="1137.8" r="7.3"/>
<circle cx="1933.1" cy="1144.1" r="7.3"/>
<circle cx="1938.9" cy="1151.0" r="7.3"/>
<circle cx="1941.9" cy="1156.4" r="7.3"/>
<circle cx="1963.4" cy="1140.6" r="7.3"/>
<circle cx="1993.1" cy="1135.3" r="7.3"/>
<circle cx="1931.2" cy="1166.1" r="7.3"/>
<circle cx="1950.5" cy="1168.9" r="7.3"/>
<circle cx="1965.1" cy="1160.3" r="7.3"/>
<circle cx="1977.6" cy="1161.9" r="7.3"/>
<circle cx="1979.4" cy="1172.6" r="7.3"/>
<circle cx="1926.1" cy="1177.7" r="7.3"/>
<circle cx="1920.3" cy="1182.4" r="7.3"/>
<circle cx="1935.8" cy="1187.5" r="7.3"/>
<circle cx="1945.1" cy="1187.5" r="7.3"/>
<circle cx="1958.6" cy="1184.7" r="7.3"/>
<circle cx="1967.8" cy="1189.3" r="7.3"/>
<circle cx="1974.8" cy="1192.8" r="7.3"/>
<circle cx="1981.8" cy="1195.1" r="7.3"/>
<circle cx="1974.3" cy="1204.9" r="7.3"/>
<circle cx="1988.3" cy="1204.9" r="7.3"/>
<circle cx="1989.9" cy="1194.0" r="7.3"/>
<circle cx="1998.0" cy="1194.0" r="7.3"/>
<circle cx="2009.6" cy="1191.6" r="7.3"/>
<circle cx="2002.6" cy="1184.7" r="7.3"/>
<circle cx="2011.4" cy="1178.2" r="7.3"/>
<circle cx="1994.5" cy="1173.1" r="7.3"/>
<circle cx="2002.6" cy="1171.9" r="7.3"/>
<circle cx="2016.1" cy="1154.1" r="7.3"/>
<circle cx="2018.9" cy="1159.2" r="7.3"/>
<circle cx="2013.1" cy="1161.5" r="7.3"/>
<circle cx="2007.3" cy="1215.3" r="7.3"/>
<circle cx="1966.2" cy="1220.2" r="7.3"/>
<circle cx="1922.4" cy="1224.3" r="7.3"/>
<circle cx="1986.2" cy="1234.1" r="7.3"/>
<circle cx="1954.4" cy="1244.3" r="7.3"/>
<circle cx="2020.5" cy="1048.3" r="7.3"/>
<circle cx="2023.3" cy="1069.4" r="7.3"/>
<circle cx="2039.3" cy="1032.3" r="7.3"/>
<circle cx="2025.4" cy="1130.2" r="7.3"/>
<circle cx="2036.3" cy="1187.0" r="7.3"/>
<circle cx="2043.2" cy="1192.8" r="7.3"/>
<circle cx="2052.5" cy="1191.6" r="7.3"/>
<circle cx="2057.1" cy="1200.2" r="7.3"/>
<circle cx="2065.9" cy="1195.6" r="7.3"/>
<circle cx="2075.0" cy="1202.1" r="7.3"/>
<circle cx="2067.6" cy="1213.7" r="7.3"/>
<circle cx="2072.7" cy="1212.5" r="7.3"/>
<circle cx="2037.4" cy="1240.3" r="7.3"/>
<circle cx="2044.4" cy="1243.8" r="7.3"/>
<circle cx="2053.2" cy="1239.2" r="7.3"/>
<circle cx="2049.0" cy="1251.9" r="7.3"/>
<circle cx="2068.7" cy="1240.3" r="7.3"/>
<circle cx="2078.0" cy="1246.1" r="7.3"/>
<circle cx="2091.2" cy="1242.2" r="7.3"/>
<circle cx="2081.5" cy="1256.6" r="7.3"/>
<circle cx="2089.4" cy="1149.2" r="7.3"/>
<circle cx="2099.6" cy="1186.5" r="7.3"/>
<circle cx="2107.5" cy="1198.6" r="7.3"/>
<circle cx="2105.4" cy="1211.3" r="7.3"/>
<circle cx="2110.0" cy="1223.6" r="7.3"/>
<circle cx="2120.9" cy="1218.3" r="7.3"/>
<circle cx="2123.9" cy="1213.7" r="7.3"/>
<circle cx="2130.2" cy="1230.4" r="7.3"/>
<circle cx="2115.6" cy="1242.7" r="7.3"/>
<circle cx="2118.6" cy="1253.1" r="7.3"/>
<circle cx="2137.1" cy="1117.0" r="7.3"/>
<circle cx="2141.8" cy="1123.2" r="7.3"/>
<circle cx="2138.3" cy="1126.7" r="7.3"/>
<circle cx="2135.3" cy="1143.4" r="7.3"/>
<circle cx="2156.4" cy="1136.4" r="7.3"/>
<circle cx="2158.5" cy="1149.4" r="7.3"/>
<circle cx="2131.3" cy="1166.1" r="7.3"/>
<circle cx="2140.2" cy="1170.3" r="7.3"/>
<circle cx="2126.7" cy="1177.3" r="7.3"/>
<circle cx="2132.5" cy="1180.0" r="7.3"/>
<circle cx="2144.1" cy="1185.8" r="7.3"/>
<circle cx="2151.1" cy="1178.9" r="7.3"/>
<circle cx="2153.4" cy="1190.5" r="7.3"/>
<circle cx="2160.3" cy="1189.3" r="7.3"/>
<circle cx="2163.8" cy="1171.9" r="7.3"/>
<circle cx="2169.6" cy="1168.9" r="7.3"/>
<circle cx="2165.0" cy="1177.0" r="7.3"/>
<circle cx="2184.2" cy="1174.9" r="7.3"/>
<circle cx="2177.0" cy="1205.1" r="7.3"/>
<circle cx="2174.2" cy="1212.5" r="7.3"/>
<circle cx="2153.8" cy="1214.1" r="7.3"/>
<circle cx="2162.7" cy="1218.3" r="7.3"/>
<circle cx="2167.3" cy="1220.6" r="7.3"/>
<circle cx="2193.3" cy="1221.1" r="7.3"/>
<circle cx="2176.3" cy="1240.3" r="7.3"/>
<circle cx="2201.2" cy="1044.6" r="7.3"/>
<circle cx="2199.8" cy="1071.0" r="7.3"/>
<circle cx="2206.7" cy="1067.6" r="7.3"/>
<circle cx="2207.9" cy="1084.5" r="7.3"/>
<circle cx="2204.4" cy="1088.4" r="7.3"/>
<circle cx="2202.5" cy="1105.4" r="7.3"/>
<circle cx="2209.5" cy="1123.2" r="7.3"/>
<circle cx="2197.4" cy="1134.4" r="7.3"/>
<circle cx="2211.4" cy="1133.7" r="7.3"/>
<circle cx="2222.5" cy="1134.4" r="7.3"/>
<circle cx="2226.4" cy="1141.8" r="7.3"/>
<circle cx="2232.2" cy="1144.1" r="7.3"/>
<circle cx="2225.0" cy="1081.2" r="7.3"/>
<circle cx="2229.4" cy="1055.5" r="7.3"/>
<circle cx="2213.2" cy="1185.4" r="7.3"/>
<circle cx="2224.1" cy="1187.5" r="7.3"/>
<circle cx="2234.1" cy="1176.3" r="7.3"/>
<circle cx="2220.2" cy="1215.3" r="7.3"/>
<circle cx="2236.4" cy="1029.8" r="7.3"/>
<circle cx="2241.5" cy="1033.5" r="7.3"/>
<circle cx="2259.4" cy="1032.3" r="7.3"/>
<circle cx="2263.5" cy="1058.3" r="7.3"/>
<circle cx="2257.0" cy="1066.4" r="7.3"/>
<circle cx="2239.2" cy="1011.9" r="7.3"/>
<circle cx="2243.8" cy="1010.7" r="7.3"/>
<circle cx="2250.8" cy="1012.6" r="7.3"/>
<circle cx="2248.0" cy="1017.7" r="7.3"/>
<circle cx="2243.8" cy="994.5" r="7.3"/>
<circle cx="2247.3" cy="999.1" r="7.3"/>
<circle cx="2252.4" cy="982.2" r="7.3"/>
<circle cx="2261.2" cy="987.6" r="7.3"/>
<circle cx="2273.0" cy="934.7" r="7.3"/>
<circle cx="2271.7" cy="971.8" r="7.3"/>
<circle cx="2275.1" cy="962.0" r="7.3"/>
<circle cx="2278.6" cy="951.6" r="7.3"/>
<circle cx="2277.4" cy="997.3" r="7.3"/>
<circle cx="2266.3" cy="1140.4" r="7.3"/>
<circle cx="2254.5" cy="1159.4" r="7.3"/>
<circle cx="2264.7" cy="1168.4" r="7.3"/>
<circle cx="2256.1" cy="1178.6" r="7.3"/>
<circle cx="2268.4" cy="1188.8" r="7.3"/>
<circle cx="2270.5" cy="1202.8" r="7.3"/>
<circle cx="1956.3" cy="1265.1" r="7.3"/>
<circle cx="1972.5" cy="1265.1" r="7.3"/>
<circle cx="1981.3" cy="1272.1" r="7.3"/>
<circle cx="2014.2" cy="1268.1" r="7.3"/>
<circle cx="2085.0" cy="1264.6" r="7.3"/>
<circle cx="2218.3" cy="1262.3" r="7.3"/>
<circle cx="1924.5" cy="1301.5" r="7.3"/>
<circle cx="1984.3" cy="1289.5" r="7.3"/>
<circle cx="2027.4" cy="1289.2" r="7.3"/>
<circle cx="2046.2" cy="1278.1" r="7.3"/>
<circle cx="2021.2" cy="1301.7" r="7.3"/>
<circle cx="2034.4" cy="1308.5" r="7.3"/>
<circle cx="2064.1" cy="1283.9" r="7.3"/>
<circle cx="2060.1" cy="1290.1" r="7.3"/>
<circle cx="2103.3" cy="1277.2" r="7.3"/>
<circle cx="2096.6" cy="1293.2" r="7.3"/>
<circle cx="2098.9" cy="1297.8" r="7.3"/>
<circle cx="2082.6" cy="1308.7" r="7.3"/>
<circle cx="2091.9" cy="1308.7" r="7.3"/>
<circle cx="2094.2" cy="1320.8" r="7.3"/>
<circle cx="2101.2" cy="1328.4" r="7.3"/>
<circle cx="2108.2" cy="1330.3" r="7.3"/>
<circle cx="2127.9" cy="1282.0" r="7.3"/>
<circle cx="2123.2" cy="1287.4" r="7.3"/>
<circle cx="2147.6" cy="1309.2" r="7.3"/>
<circle cx="2149.2" cy="1318.7" r="7.3"/>
<circle cx="2170.5" cy="1278.1" r="7.3"/>
<circle cx="2188.2" cy="1269.3" r="7.3"/>
<circle cx="2186.5" cy="1290.1" r="7.3"/>
<circle cx="2181.2" cy="1304.1" r="7.3"/>
<circle cx="2171.9" cy="1310.3" r="7.3"/>
<circle cx="2178.9" cy="1333.5" r="7.3"/>
<circle cx="2192.3" cy="1336.1" r="7.3"/>
<circle cx="2190.5" cy="1347.0" r="7.3"/>
<circle cx="2217.2" cy="1306.2" r="7.3"/>
<circle cx="2231.3" cy="1314.5" r="7.3"/>
<circle cx="2215.5" cy="1331.4" r="7.3"/>
<circle cx="1989.4" cy="1342.3" r="7.3"/>
<circle cx="2029.3" cy="1342.3" r="7.3"/>
<circle cx="2058.3" cy="1343.5" r="7.3"/>
<circle cx="2062.9" cy="1342.1" r="7.3"/>
<circle cx="2055.3" cy="1368.3" r="7.3"/>
<circle cx="2032.3" cy="1386.4" r="7.3"/>
<circle cx="2030.2" cy="1404.5" r="7.3"/>
<circle cx="2112.1" cy="1404.2" r="7.3"/>
<circle cx="2114.4" cy="1406.1" r="7.3"/>
<circle cx="2195.4" cy="1395.2" r="7.3"/>
<circle cx="2146.4" cy="1620.4" r="7.3"/>
<circle cx="2284.6" cy="922.4" r="7.3"/>
<circle cx="2283.5" cy="966.4" r="7.3"/>
<circle cx="2295.5" cy="950.2" r="7.3"/>
<circle cx="2289.3" cy="985.4" r="7.3"/>
<circle cx="2319.4" cy="920.3" r="7.3"/>
<circle cx="2317.6" cy="935.1" r="7.3"/>
<circle cx="2322.7" cy="935.6" r="7.3"/>
<circle cx="2309.7" cy="957.1" r="7.3"/>
<circle cx="2312.5" cy="965.7" r="7.3"/>
<circle cx="2314.8" cy="980.3" r="7.3"/>
<circle cx="2311.3" cy="987.3" r="7.3"/>
<circle cx="2325.2" cy="974.1" r="7.3"/>
<circle cx="2341.5" cy="925.4" r="7.3"/>
<circle cx="2337.3" cy="945.5" r="7.3"/>
<circle cx="2330.6" cy="954.8" r="7.3"/>
<circle cx="2335.7" cy="963.4" r="7.3"/>
<circle cx="2326.4" cy="891.0" r="7.3"/>
<circle cx="2334.5" cy="901.5" r="7.3"/>
<circle cx="2357.2" cy="893.4" r="7.3"/>
<circle cx="2364.2" cy="877.1" r="7.3"/>
<circle cx="2371.1" cy="906.1" r="7.3"/>
<circle cx="2373.5" cy="919.6" r="7.3"/>
<circle cx="2383.2" cy="916.6" r="7.3"/>
<circle cx="2389.0" cy="928.4" r="7.3"/>
<circle cx="2385.5" cy="900.3" r="7.3"/>
<circle cx="2387.1" cy="902.2" r="7.3"/>
<circle cx="2378.6" cy="961.3" r="7.3"/>
<circle cx="2394.3" cy="952.5" r="7.3"/>
<circle cx="2410.3" cy="965.3" r="7.3"/>
<circle cx="2408.5" cy="977.6" r="7.3"/>
<circle cx="2358.4" cy="840.0" r="7.3"/>
<circle cx="2355.4" cy="845.4" r="7.3"/>
<circle cx="2361.2" cy="849.3" r="7.3"/>
<circle cx="2365.3" cy="855.1" r="7.3"/>
<circle cx="2374.6" cy="863.2" r="7.3"/>
<circle cx="2376.2" cy="870.2" r="7.3"/>
<circle cx="2362.3" cy="818.5" r="7.3"/>
<circle cx="2367.7" cy="823.3" r="7.3"/>
<circle cx="2369.5" cy="778.3" r="7.3"/>
<circle cx="2397.3" cy="878.1" r="7.3"/>
<circle cx="2399.4" cy="828.7" r="7.3"/>
<circle cx="2405.2" cy="834.9" r="7.3"/>
<circle cx="2396.4" cy="767.2" r="7.3"/>
<circle cx="2406.4" cy="903.8" r="7.3"/>
<circle cx="2412.2" cy="913.8" r="7.3"/>
<circle cx="2429.1" cy="913.5" r="7.3"/>
<circle cx="2444.2" cy="915.4" r="7.3"/>
<circle cx="2433.3" cy="960.2" r="7.3"/>
<circle cx="2428.4" cy="892.7" r="7.3"/>
<circle cx="2436.3" cy="885.3" r="7.3"/>
<circle cx="2435.4" cy="858.6" r="7.3"/>
<circle cx="2440.0" cy="852.8" r="7.3"/>
<circle cx="2442.3" cy="844.0" r="7.3"/>
<circle cx="2424.2" cy="817.5" r="7.3"/>
<circle cx="2438.4" cy="823.6" r="7.3"/>
<circle cx="2431.4" cy="801.3" r="7.3"/>
<circle cx="2419.1" cy="754.9" r="7.3"/>
<circle cx="2415.7" cy="760.0" r="7.3"/>
<circle cx="2421.9" cy="765.6" r="7.3"/>
<circle cx="2413.3" cy="770.9" r="7.3"/>
<circle cx="2420.3" cy="782.5" r="7.3"/>
<circle cx="2426.3" cy="739.4" r="7.3"/>
<circle cx="2452.1" cy="746.6" r="7.3"/>
<circle cx="2465.5" cy="743.8" r="7.3"/>
<circle cx="2472.5" cy="748.4" r="7.3"/>
<circle cx="2468.3" cy="726.4" r="7.3"/>
<circle cx="2451.6" cy="768.1" r="7.3"/>
<circle cx="2445.8" cy="777.4" r="7.3"/>
<circle cx="2449.3" cy="784.8" r="7.3"/>
<circle cx="2463.4" cy="638.3" r="7.3"/>
<circle cx="2459.3" cy="657.3" r="7.3"/>
<circle cx="2458.3" cy="688.4" r="7.3"/>
<circle cx="2453.9" cy="699.7" r="7.3"/>
<circle cx="2461.4" cy="702.5" r="7.3"/>
<circle cx="2477.1" cy="685.3" r="7.3"/>
<circle cx="2476.0" cy="787.4" r="7.3"/>
<circle cx="2483.6" cy="782.7" r="7.3"/>
<circle cx="2486.4" cy="789.0" r="7.3"/>
<circle cx="2484.1" cy="794.8" r="7.3"/>
<circle cx="2491.0" cy="796.0" r="7.3"/>
<circle cx="2499.9" cy="792.5" r="7.3"/>
<circle cx="2474.3" cy="806.4" r="7.3"/>
<circle cx="2456.3" cy="866.7" r="7.3"/>
<circle cx="2467.4" cy="859.7" r="7.3"/>
<circle cx="2470.2" cy="861.4" r="7.3"/>
<circle cx="2481.3" cy="874.4" r="7.3"/>
<circle cx="2479.2" cy="842.8" r="7.3"/>
<circle cx="2490.3" cy="832.6" r="7.3"/>
<circle cx="2493.1" cy="845.4" r="7.3"/>
<circle cx="2488.3" cy="917.5" r="7.3"/>
<circle cx="2502.4" cy="686.5" r="7.3"/>
<circle cx="2499.2" cy="705.5" r="7.3"/>
<circle cx="2496.8" cy="710.2" r="7.3"/>
<circle cx="2495.4" cy="747.3" r="7.3"/>
<circle cx="2504.3" cy="772.3" r="7.3"/>
<circle cx="2511.4" cy="722.2" r="7.3"/>
<circle cx="2506.8" cy="728.2" r="7.3"/>
<circle cx="2510.8" cy="734.5" r="7.3"/>
<circle cx="2513.5" cy="741.5" r="7.3"/>
<circle cx="2523.0" cy="719.0" r="7.3"/>
<circle cx="2535.1" cy="720.6" r="7.3"/>
<circle cx="2538.1" cy="731.5" r="7.3"/>
<circle cx="2543.2" cy="714.8" r="7.3"/>
<circle cx="2548.6" cy="707.4" r="7.3"/>
<circle cx="2536.3" cy="689.3" r="7.3"/>
<circle cx="2539.3" cy="660.3" r="7.3"/>
<circle cx="2541.6" cy="748.4" r="7.3"/>
<circle cx="2546.7" cy="747.3" r="7.3"/>
<circle cx="2552.5" cy="751.9" r="7.3"/>
<circle cx="2527.7" cy="765.8" r="7.3"/>
<circle cx="2532.8" cy="764.2" r="7.3"/>
<circle cx="2529.3" cy="775.6" r="7.3"/>
<circle cx="2530.5" cy="785.5" r="7.3"/>
<circle cx="2521.9" cy="805.9" r="7.3"/>
<circle cx="2525.4" cy="812.2" r="7.3"/>
<circle cx="2514.2" cy="818.0" r="7.3"/>
<circle cx="2507.3" cy="823.3" r="7.3"/>
<circle cx="2518.4" cy="848.4" r="7.3"/>
<circle cx="2516.3" cy="964.3" r="7.3"/>
<circle cx="2555.3" cy="786.2" r="7.3"/>
<circle cx="2551.3" cy="797.1" r="7.3"/>
<circle cx="2560.6" cy="798.3" r="7.3"/>
<circle cx="2568.7" cy="802.9" r="7.3"/>
<circle cx="2545.5" cy="806.4" r="7.3"/>
<circle cx="2553.2" cy="810.6" r="7.3"/>
<circle cx="2565.3" cy="808.7" r="7.3"/>
<circle cx="2571.0" cy="815.7" r="7.3"/>
<circle cx="2568.3" cy="761.2" r="7.3"/>
<circle cx="2585.4" cy="761.2" r="7.3"/>
<circle cx="2596.1" cy="768.8" r="7.3"/>
<circle cx="2601.7" cy="758.4" r="7.3"/>
<circle cx="2603.1" cy="730.6" r="7.3"/>
<circle cx="2612.3" cy="727.3" r="7.3"/>
<circle cx="2624.4" cy="711.3" r="7.3"/>
<circle cx="2589.6" cy="794.3" r="7.3"/>
<circle cx="2595.4" cy="796.7" r="7.3"/>
<circle cx="2605.4" cy="800.6" r="7.3"/>
<circle cx="2582.6" cy="827.3" r="7.3"/>
<circle cx="2587.3" cy="827.3" r="7.3"/>
<circle cx="2580.3" cy="831.4" r="7.3"/>
<circle cx="2557.6" cy="838.2" r="7.3"/>
<circle cx="2564.8" cy="837.0" r="7.3"/>
<circle cx="2559.2" cy="851.6" r="7.3"/>
<circle cx="2573.4" cy="852.1" r="7.3"/>
<circle cx="2577.5" cy="862.1" r="7.3"/>
<circle cx="2574.5" cy="875.3" r="7.3"/>
<circle cx="2583.8" cy="870.2" r="7.3"/>
<circle cx="2591.5" cy="867.4" r="7.3"/>
<circle cx="2566.4" cy="885.7" r="7.3"/>
<circle cx="2578.2" cy="888.7" r="7.3"/>
<circle cx="2593.3" cy="896.4" r="7.3"/>
<circle cx="2600.0" cy="844.7" r="7.3"/>
<circle cx="2608.6" cy="831.2" r="7.3"/>
<circle cx="2621.4" cy="834.2" r="7.3"/>
<circle cx="2614.0" cy="843.5" r="7.3"/>
<circle cx="2617.4" cy="849.3" r="7.3"/>
<circle cx="2623.2" cy="850.5" r="7.3"/>
<circle cx="2627.9" cy="844.2" r="7.3"/>
<circle cx="2614.0" cy="850.5" r="7.3"/>
<circle cx="2617.4" cy="865.1" r="7.3"/>
<circle cx="2632.5" cy="865.5" r="7.3"/>
<circle cx="2626.7" cy="885.3" r="7.3"/>
<circle cx="2633.2" cy="882.5" r="7.3"/>
<circle cx="2630.2" cy="898.7" r="7.3"/>
<circle cx="2598.4" cy="951.3" r="7.3"/>
<circle cx="2619.3" cy="961.3" r="7.3"/>
<circle cx="2635.5" cy="977.3" r="7.3"/>
<circle cx="2773.3" cy="954.1" r="7.3"/>
<circle cx="2768.2" cy="964.1" r="7.3"/>
<circle cx="2776.3" cy="964.1" r="7.3"/>
<circle cx="2770.5" cy="976.9" r="7.3"/>
<circle cx="2772.8" cy="994.2" r="7.3"/>
<circle cx="2328.2" cy="1006.5" r="7.3"/>
<circle cx="2339.6" cy="1014.4" r="7.3"/>
<circle cx="2323.4" cy="1019.2" r="7.3"/>
<circle cx="2296.2" cy="1013.9" r="7.3"/>
<circle cx="2293.5" cy="1019.0" r="7.3"/>
<circle cx="2307.4" cy="1028.3" r="7.3"/>
<circle cx="2316.4" cy="1037.1" r="7.3"/>
<circle cx="2286.3" cy="1038.3" r="7.3"/>
<circle cx="2302.5" cy="1060.3" r="7.3"/>
<circle cx="2287.0" cy="1064.5" r="7.3"/>
<circle cx="2291.1" cy="1069.1" r="7.3"/>
<circle cx="2303.2" cy="1070.7" r="7.3"/>
<circle cx="2300.4" cy="1090.0" r="7.3"/>
<circle cx="2305.3" cy="1100.4" r="7.3"/>
<circle cx="2298.6" cy="1134.0" r="7.3"/>
<circle cx="2343.8" cy="1070.3" r="7.3"/>
<circle cx="2348.9" cy="1072.4" r="7.3"/>
<circle cx="2350.7" cy="1078.8" r="7.3"/>
<circle cx="2351.9" cy="1084.6" r="7.3"/>
<circle cx="2346.1" cy="1112.5" r="7.3"/>
<circle cx="2353.7" cy="1114.1" r="7.3"/>
<circle cx="2332.4" cy="1181.1" r="7.3"/>
<circle cx="2342.4" cy="1189.5" r="7.3"/>
<circle cx="2381.3" cy="1032.2" r="7.3"/>
<circle cx="2403.4" cy="1022.0" r="7.3"/>
<circle cx="2401.5" cy="1033.6" r="7.3"/>
<circle cx="2390.4" cy="1048.5" r="7.3"/>
<circle cx="2392.5" cy="1185.3" r="7.3"/>
<circle cx="2690.5" cy="1042.4" r="7.3"/>
<circle cx="2678.2" cy="1055.0" r="7.3"/>
<circle cx="2677.0" cy="1060.3" r="7.3"/>
<circle cx="2682.4" cy="1064.9" r="7.3"/>
<circle cx="2688.6" cy="1068.4" r="7.3"/>
<circle cx="2669.6" cy="1074.4" r="7.3"/>
<circle cx="2683.5" cy="1080.0" r="7.3"/>
<circle cx="2695.1" cy="1083.5" r="7.3"/>
<circle cx="2674.2" cy="1086.3" r="7.3"/>
<circle cx="2687.0" cy="1088.1" r="7.3"/>
<circle cx="2671.5" cy="1099.7" r="7.3"/>
<circle cx="2681.2" cy="1103.2" r="7.3"/>
<circle cx="2692.8" cy="1108.3" r="7.3"/>
<circle cx="2702.5" cy="1118.3" r="7.3"/>
<circle cx="2685.1" cy="1125.5" r="7.3"/>
<circle cx="2697.4" cy="1128.7" r="7.3"/>
<circle cx="2710.7" cy="1136.1" r="7.3"/>
<circle cx="2700.9" cy="1143.8" r="7.3"/>
<circle cx="2706.7" cy="1153.5" r="7.3"/>
<circle cx="2708.1" cy="1166.5" r="7.3"/>
<circle cx="2665.4" cy="1159.3" r="7.3"/>
<circle cx="2660.3" cy="1198.3" r="7.3"/>
<circle cx="2662.7" cy="1199.4" r="7.3"/>
<circle cx="2699.3" cy="1188.5" r="7.3"/>
<circle cx="2704.4" cy="1189.7" r="7.3"/>
<circle cx="2714.8" cy="1191.3" r="7.3"/>
<circle cx="2722.9" cy="1190.2" r="7.3"/>
<circle cx="2731.8" cy="1199.9" r="7.3"/>
<circle cx="2738.5" cy="1204.5" r="7.3"/>
<circle cx="2711.4" cy="1211.3" r="7.3"/>
<circle cx="2727.1" cy="1218.2" r="7.3"/>
<circle cx="2749.6" cy="1222.4" r="7.3"/>
<circle cx="2713.7" cy="1236.5" r="7.3"/>
<circle cx="2719.5" cy="1242.3" r="7.3"/>
<circle cx="2726.4" cy="1234.2" r="7.3"/>
<circle cx="2736.9" cy="1234.2" r="7.3"/>
<circle cx="2731.1" cy="1241.2" r="7.3"/>
<circle cx="2725.3" cy="1244.7" r="7.3"/>
<circle cx="2717.4" cy="1251.6" r="7.3"/>
<circle cx="2734.1" cy="1250.5" r="7.3"/>
<circle cx="2740.3" cy="1262.1" r="7.3"/>
<circle cx="2747.3" cy="1258.1" r="7.3"/>
<circle cx="2720.4" cy="1269.5" r="7.3"/>
<circle cx="2752.4" cy="1272.5" r="7.3"/>
<circle cx="2667.3" cy="1244.2" r="7.3"/>
<circle cx="2655.2" cy="1255.3" r="7.3"/>
<circle cx="2642.2" cy="1278.1" r="7.3"/>
<circle cx="2658.5" cy="1274.4" r="7.3"/>
<circle cx="2653.4" cy="1297.3" r="7.3"/>
<circle cx="2640.4" cy="1313.5" r="7.3"/>
<circle cx="2649.2" cy="1320.5" r="7.3"/>
<circle cx="2656.4" cy="1332.8" r="7.3"/>
<circle cx="2651.5" cy="1338.6" r="7.3"/>
<circle cx="2644.6" cy="1349.0" r="7.3"/>
<circle cx="2648.3" cy="1352.5" r="7.3"/>
<circle cx="2646.4" cy="1359.5" r="7.3"/>
<circle cx="2639.2" cy="1363.4" r="7.3"/>
<circle cx="2663.3" cy="1389.4" r="7.3"/>
<circle cx="2637.4" cy="1396.1" r="7.3"/>
<circle cx="2743.4" cy="1319.1" r="7.3"/>
<circle cx="2750.8" cy="1327.5" r="7.3"/>
<circle cx="2745.4" cy="1345.5" r="7.3"/>
<circle cx="2763.5" cy="1042.2" r="7.3"/>
<circle cx="2765.4" cy="1044.1" r="7.3"/>
<circle cx="2756.6" cy="1090.4" r="7.3"/>
<circle cx="2766.5" cy="1088.4" r="7.3"/>
<circle cx="2761.4" cy="1104.6" r="7.3"/>
<circle cx="2759.4" cy="1144.5" r="7.3"/>
<circle cx="2757.5" cy="1171.4" r="7.3"/>
<circle cx="2812.6" cy="747.3" r="7.3"/>
<circle cx="2807.2" cy="785.3" r="7.3"/>
<circle cx="2802.1" cy="795.1" r="7.3"/>
<circle cx="2833.9" cy="778.1" r="7.3"/>
<circle cx="2832.3" cy="781.2" r="7.3"/>
<circle cx="2862.4" cy="782.8" r="7.3"/>
<circle cx="2866.4" cy="794.4" r="7.3"/>
<circle cx="2795.7" cy="810.8" r="7.3"/>
<circle cx="2800.8" cy="810.1" r="7.3"/>
<circle cx="2814.2" cy="810.1" r="7.3"/>
<circle cx="2825.3" cy="804.3" r="7.3"/>
<circle cx="2850.4" cy="813.4" r="7.3"/>
<circle cx="2794.5" cy="823.4" r="7.3"/>
<circle cx="2809.1" cy="833.3" r="7.3"/>
<circle cx="2804.9" cy="838.0" r="7.3"/>
<circle cx="2805.6" cy="844.2" r="7.3"/>
<circle cx="2836.2" cy="836.3" r="7.3"/>
<circle cx="2828.1" cy="842.1" r="7.3"/>
<circle cx="2841.3" cy="842.6" r="7.3"/>
<circle cx="2781.3" cy="859.3" r="7.3"/>
<circle cx="2787.5" cy="863.5" r="7.3"/>
<circle cx="2798.0" cy="860.0" r="7.3"/>
<circle cx="2788.2" cy="869.3" r="7.3"/>
<circle cx="2823.0" cy="855.4" r="7.3"/>
<circle cx="2830.4" cy="863.5" r="7.3"/>
<circle cx="2859.9" cy="844.2" r="7.3"/>
<circle cx="2867.5" cy="839.1" r="7.3"/>
<circle cx="2869.9" cy="848.4" r="7.3"/>
<circle cx="2873.3" cy="854.2" r="7.3"/>
<circle cx="2878.7" cy="858.8" r="7.3"/>
<circle cx="2784.1" cy="885.5" r="7.3"/>
<circle cx="2781.7" cy="896.6" r="7.3"/>
<circle cx="2791.5" cy="903.4" r="7.3"/>
<circle cx="2816.5" cy="880.2" r="7.3"/>
<circle cx="2818.8" cy="883.2" r="7.3"/>
<circle cx="2821.6" cy="889.0" r="7.3"/>
<circle cx="2843.2" cy="892.2" r="7.3"/>
<circle cx="2857.1" cy="886.2" r="7.3"/>
<circle cx="2864.5" cy="886.2" r="7.3"/>
<circle cx="2875.2" cy="894.3" r="7.3"/>
<circle cx="2880.8" cy="881.3" r="7.3"/>
<circle cx="2887.2" cy="888.3" r="7.3"/>
<circle cx="2855.5" cy="904.3" r="7.3"/>
<circle cx="2859.4" cy="915.7" r="7.3"/>
<circle cx="2883.5" cy="915.2" r="7.3"/>
<circle cx="2837.4" cy="922.4" r="7.3"/>
<circle cx="2839.5" cy="935.6" r="7.3"/>
<circle cx="2848.3" cy="948.3" r="7.3"/>
<circle cx="2871.5" cy="937.2" r="7.3"/>
<circle cx="2894.4" cy="942.3" r="7.3"/>
<circle cx="2779.4" cy="992.2" r="7.3"/>
<circle cx="2827.2" cy="975.2" r="7.3"/>
<circle cx="2846.4" cy="987.3" r="7.3"/>
<circle cx="2882.4" cy="968.3" r="7.3"/>
<circle cx="2889.1" cy="985.4" r="7.3"/>
<circle cx="2899.5" cy="983.4" r="7.3"/>
<circle cx="2811.2" cy="1004.2" r="7.3"/>
<circle cx="2820.5" cy="1009.1" r="7.3"/>
<circle cx="2896.5" cy="1002.1" r="7.3"/>
<circle cx="2903.5" cy="1008.4" r="7.3"/>
<circle cx="2853.4" cy="1037.2" r="7.3"/>
<circle cx="2898.4" cy="1038.6" r="7.3"/>
<circle cx="2901.6" cy="1036.2" r="7.3"/>
<circle cx="2844.3" cy="1064.3" r="7.3"/>
<circle cx="2851.5" cy="1077.5" r="7.3"/>
<circle cx="2890.5" cy="1065.4" r="7.3"/>
<circle cx="2876.3" cy="1086.1" r="7.3"/>
<circle cx="2908.1" cy="806.4" r="7.3"/>
<circle cx="2041.3" cy="1246.6" r="7.3"/>
<circle cx="2046.2" cy="1248.7" r="7.3"/>
<circle cx="2076.1" cy="1255.0" r="7.3"/>
<circle cx="2087.9" cy="1261.2" r="7.3"/>
<circle cx="2119.2" cy="1259.1" r="7.3"/>
<circle cx="778.6" cy="1141.7" r="7.3"/>
<circle cx="703.2" cy="1112.2" r="7.3"/>
<circle cx="692.8" cy="1109.9" r="7.3"/>
<circle cx="2610.4" cy="571.3" r="7.3"/>
<circle cx="2754.5" cy="1406.4" r="7.3"/>
<circle cx="2892.3" cy="1199.5" r="7.3"/>
<circle cx="2908.1" cy="1127.4" r="7.3"/>
<circle cx="2905.2" cy="1829.2" r="7.3"/>
<circle cx="2906.3" cy="1840.6" r="7.3"/>
<circle cx="1762.6" cy="1790.2" r="7.3"/>
<circle cx="1759.5" cy="1792.9" r="7.3"/>
<circle cx="1757.4" cy="1799.6" r="7.3"/>
<circle cx="1764.6" cy="1802.5" r="7.3"/>
<circle cx="1761.4" cy="1807.5" r="7.3"/>
</g>
<rect x="290.0" y="362.0" width="2620.0" height="1688.0" fill="none" stroke="#000" stroke-width="1.67"/>
<g stroke="#000" stroke-width="1.67">
<line x1="290.0" y1="2050.0" x2="290.0" y2="2057.3"/>
<line x1="556.0" y1="2050.0" x2="556.0" y2="2057.3"/>
<line x1="822.0" y1="2050.0" x2="822.0" y2="2057.3"/>
<line x1="1088.0" y1="2050.0" x2="1088.0" y2="2057.3"/>
<line x1="1354.0" y1="2050.0" x2="1354.0" y2="2057.3"/>
<line x1="1620.0" y1="2050.0" x2="1620.0" y2="2057.3"/>
<line x1="1886.0" y1="2050.0" x2="1886.0" y2="2057.3"/>
<line x1="2153.0" y1="2050.0" x2="2153.0" y2="2057.3"/>
<line x1="2419.0" y1="2050.0" x2="2419.0" y2="2057.3"/>
<line x1="2685.0" y1="2050.0" x2="2685.0" y2="2057.3"/>
<line x1="282.7" y1="568.0" x2="290.0" y2="568.0"/>
<line x1="282.7" y1="777.0" x2="290.0" y2="777.0"/>
<line x1="282.7" y1="987.0" x2="290.0" y2="987.0"/>
<line x1="282.7" y1="1197.0" x2="290.0" y2="1197.0"/>
<line x1="282.7" y1="1406.0" x2="290.0" y2="1406.0"/>
<line x1="282.7" y1="1616.0" x2="290.0" y2="1616.0"/>
<line x1="282.7" y1="1825.0" x2="290.0" y2="1825.0"/>
<line x1="282.7" y1="2035.0" x2="290.0" y2="2035.0"/>
</g>
<g font-size="83.33" text-anchor="middle">
<text x="290.0" y="2128.5">0</text>
<text x="556.1" y="2128.5">150</text>
<text x="822.2" y="2128.5">300</text>
<text x="1088.2" y="2128.5">450</text>
<text x="1354.3" y="2128.5">600</text>
<text x="1620.4" y="2128.5">750</text>
<text x="1886.5" y="2128.5">900</text>
<text x="2152.6" y="2128.5">1050</text>
<text x="2418.6" y="2128.5">1200</text>
<text x="2684.7" y="2128.5">1350</text>
</g>
<g font-size="83.33" text-anchor="end">
<text x="275.5" y="600.0">13.2</text>
<text x="275.5" y="809.6">13.3</text>
<text x="275.5" y="1019.1">13.4</text>
<text x="275.5" y="1228.7">13.5</text>
<text x="275.5" y="1438.3">13.6</text>
<text x="275.5" y="1647.9">13.7</text>
<text x="275.5" y="1857.4">13.8</text>
<text x="275.5" y="2067.0">13.9</text>
</g>
<text x="1600" y="2293.6" font-size="83.33" text-anchor="middle">All obs, one after the other</text>
<text x="1600" y="166.9" font-size="100" text-anchor="middle">RMH-HMB102</text>
<text x="1600" y="278.9" font-size="100" text-anchor="middle">Star 5493</text>
</svg></body></html>
